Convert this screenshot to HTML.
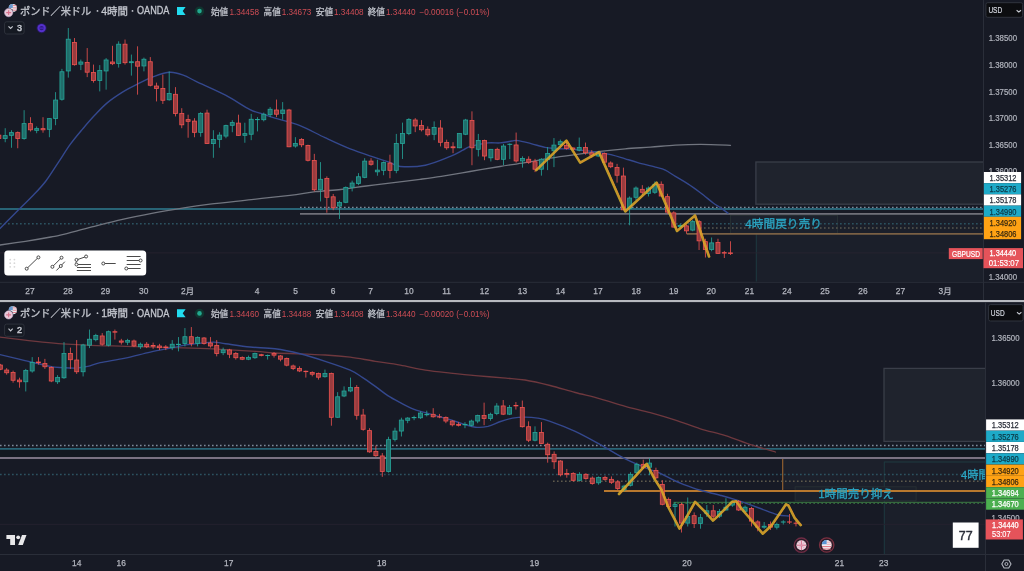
<!DOCTYPE html>
<html><head><meta charset="utf-8"><title>GBPUSD chart</title>
<style>html,body{margin:0;padding:0;background:#171a25;}body{width:1024px;height:571px;overflow:hidden;}svg{display:block;}</style>
</head><body>
<svg width="1024" height="571" viewBox="0 0 1024 571">
<rect width="1024" height="571" fill="#171a25"/>
<clipPath id="ct"><rect x="0" y="0" width="983.5" height="281.5"/></clipPath>
<clipPath id="cb"><rect x="0" y="302" width="985.5" height="252"/></clipPath>
<g clip-path="url(#ct)">
<rect x="755.9" y="162" width="240" height="42.2" fill="#1f232d" stroke="#3a3e49" stroke-width="1.3"/>
<rect x="756.3" y="214" width="240" height="80" fill="#1b1f2a" stroke="#1f3a40" stroke-width="1"/>
<rect x="730.5" y="215.3" width="107" height="18" fill="#1c212c" stroke="#2a3336" stroke-width="0.8"/>
<line x1="300" y1="207.4" x2="983.5" y2="207.4" stroke="#7e8a9a" stroke-width="1.5" stroke-dasharray="1.6 2.4"/>
<line x1="0" y1="209" x2="983.5" y2="209" stroke="#286476" stroke-width="1.8"/>
<line x1="300" y1="213.9" x2="983.5" y2="213.9" stroke="#6f6f78" stroke-width="1.8"/>
<line x1="0" y1="223.8" x2="983.5" y2="223.8" stroke="#2c5260" stroke-width="1.5" stroke-dasharray="1.7 2.3"/>
<line x1="700" y1="228" x2="983.5" y2="228" stroke="#5a5850" stroke-width="1.5" stroke-dasharray="1.6 2.4"/>
<line x1="686.7" y1="233.9" x2="983.5" y2="233.9" stroke="#7a6044" stroke-width="1.8"/>
<line x1="0" y1="252.9" x2="983.5" y2="252.9" stroke="#282430" stroke-width="0.9"/>
<path d="M0.0,245.0 C4.2,244.4 16.9,242.6 25.4,241.3 C33.9,240.0 44.8,238.1 50.8,237.0 C56.8,235.9 54.4,236.6 61.3,234.9 C68.2,233.2 81.7,229.5 91.9,226.9 C102.1,224.3 112.3,221.6 122.5,219.3 C132.7,217.0 142.9,215.0 153.1,213.1 C163.3,211.2 174.3,209.4 183.8,207.9 C193.3,206.4 198.8,205.6 210.0,204.2 C221.2,202.8 238.0,201.1 251.3,199.6 C264.6,198.1 279.3,196.6 290.0,195.3 C300.7,194.0 306.9,192.7 315.4,191.7 C323.9,190.7 332.3,190.4 340.8,189.5 C349.3,188.6 357.7,187.1 366.2,186.0 C374.7,184.9 382.6,184.0 391.6,182.9 C400.6,181.8 411.7,180.4 420.0,179.3 C428.3,178.2 433.0,177.6 441.3,176.3 C449.6,175.0 460.2,173.1 470.0,171.5 C479.8,169.9 490.8,168.0 500.0,166.5 C509.2,165.0 516.6,164.0 525.0,162.6 C533.4,161.2 541.7,159.4 550.1,158.1 C558.5,156.8 566.9,155.7 575.2,154.6 C583.6,153.5 591.9,152.3 600.2,151.3 C608.6,150.3 616.9,149.5 625.3,148.8 C633.6,148.1 641.9,147.7 650.3,147.1 C658.6,146.5 667.0,145.6 675.4,145.1 C683.8,144.6 691.2,144.3 700.4,144.3 C709.6,144.3 725.5,145.1 730.5,145.3" fill="none" stroke="#71757f" stroke-width="1.3" stroke-linecap="round"/>
<path d="M0.0,228.5 C1.5,227.0 5.6,222.9 9.2,219.3 C12.8,215.7 17.3,211.1 21.4,207.0 C25.5,202.9 29.6,199.1 33.7,194.8 C37.8,190.5 41.8,186.4 45.9,181.0 C50.0,175.6 54.1,168.7 58.2,162.6 C62.3,156.5 66.3,149.8 70.4,144.2 C74.5,138.6 78.6,133.8 82.7,128.9 C86.8,124.1 90.8,119.4 94.9,115.1 C99.0,110.8 102.6,106.7 107.2,102.9 C111.8,99.1 117.4,95.4 122.5,92.2 C127.6,89.0 132.7,86.5 137.8,83.9 C142.9,81.3 147.7,78.7 153.1,76.8 C158.5,74.9 164.9,72.5 170.0,72.3 C175.1,72.0 179.5,73.8 183.8,75.3 C188.1,76.8 189.1,78.1 196.0,81.4 C202.9,84.7 216.5,90.5 225.5,95.2 C234.5,99.9 243.8,106.5 250.0,109.6 C256.2,112.7 258.3,112.5 262.5,113.9 C266.7,115.3 268.8,116.1 275.0,118.1 C281.2,120.0 291.7,122.3 300.0,125.6 C308.3,128.9 316.6,133.8 325.0,137.7 C333.4,141.6 341.8,145.6 350.2,148.9 C358.6,152.2 368.6,155.4 375.3,157.7 C382.0,160.0 386.1,161.2 390.3,162.7 C394.5,164.2 394.5,166.1 400.3,166.5 C406.1,166.9 417.0,166.9 425.4,165.2 C433.8,163.5 444.1,158.9 450.4,156.4 C456.6,153.9 459.6,151.9 462.9,150.2 C466.2,148.5 466.2,147.6 470.4,146.4 C474.6,145.2 483.1,143.5 488.0,142.9 C492.9,142.3 496.0,143.2 500.0,142.9 C504.0,142.6 509.0,141.4 512.0,141.0 C515.0,140.6 514.8,140.2 518.0,140.6 C521.2,141.0 526.5,142.5 531.0,143.6 C535.5,144.7 540.8,146.6 545.0,147.4 C549.2,148.2 551.0,148.1 556.0,148.5 C561.0,148.9 567.8,148.9 575.2,149.6 C582.6,150.3 594.0,151.7 600.2,152.6 C606.5,153.5 608.5,154.1 612.7,155.1 C616.9,156.1 621.1,157.6 625.3,158.8 C629.5,160.1 632.8,161.2 637.8,162.6 C642.8,164.0 650.7,165.8 655.3,167.1 C659.9,168.3 661.9,168.5 665.3,170.1 C668.6,171.7 671.6,174.1 675.4,176.4 C679.2,178.7 683.7,181.2 687.9,183.9 C692.1,186.6 696.2,189.6 700.4,192.7 C704.6,195.8 709.6,200.2 712.9,202.7 C716.2,205.2 717.9,205.9 720.4,207.7 C722.9,209.4 726.7,212.3 728.0,213.2" fill="none" stroke="#34488e" stroke-width="1.4" stroke-linecap="round"/>
<rect x="-1.54" y="133.98" width="0.8" height="5.76" fill="#ef5350"/>
<rect x="-3.14" y="135.13" width="4.00" height="3.46" fill="#993c3f" stroke="#ef5350" stroke-width="0.8"/>
<rect x="4.77" y="128.22" width="0.8" height="14.03" fill="#26a69a"/>
<rect x="3.17" y="135.63" width="4.00" height="2.96" fill="#206e6b" stroke="#26a69a" stroke-width="0.8"/>
<rect x="11.07" y="130.22" width="0.8" height="17.54" fill="#26a69a"/>
<rect x="9.47" y="132.62" width="4.00" height="2.71" fill="#206e6b" stroke="#26a69a" stroke-width="0.8"/>
<rect x="17.38" y="131.47" width="0.8" height="16.78" fill="#ef5350"/>
<rect x="15.78" y="132.62" width="4.00" height="5.96" fill="#993c3f" stroke="#ef5350" stroke-width="0.8"/>
<rect x="23.69" y="110.18" width="0.8" height="29.56" fill="#26a69a"/>
<rect x="22.09" y="123.61" width="4.00" height="14.98" fill="#206e6b" stroke="#26a69a" stroke-width="0.8"/>
<rect x="30.00" y="117.19" width="0.8" height="14.28" fill="#ef5350"/>
<rect x="28.40" y="123.61" width="4.00" height="6.21" fill="#993c3f" stroke="#ef5350" stroke-width="0.8"/>
<rect x="36.31" y="126.46" width="0.8" height="6.76" fill="#26a69a"/>
<rect x="34.71" y="128.62" width="4.00" height="1.71" fill="#206e6b" stroke="#26a69a" stroke-width="0.8"/>
<rect x="42.61" y="117.19" width="0.8" height="15.53" fill="#ef5350"/>
<rect x="41.01" y="128.62" width="4.00" height="1.20" fill="#993c3f" stroke="#ef5350" stroke-width="0.8"/>
<rect x="48.92" y="118.20" width="0.8" height="19.04" fill="#26a69a"/>
<rect x="47.32" y="118.60" width="4.00" height="10.72" fill="#206e6b" stroke="#26a69a" stroke-width="0.8"/>
<rect x="55.23" y="92.14" width="0.8" height="33.07" fill="#26a69a"/>
<rect x="53.63" y="100.06" width="4.00" height="18.49" fill="#206e6b" stroke="#26a69a" stroke-width="0.8"/>
<rect x="61.54" y="68.85" width="0.8" height="31.81" fill="#26a69a"/>
<rect x="59.94" y="71.75" width="4.00" height="27.51" fill="#206e6b" stroke="#26a69a" stroke-width="0.8"/>
<rect x="67.85" y="28.02" width="0.8" height="49.60" fill="#26a69a"/>
<rect x="66.25" y="39.19" width="4.00" height="31.77" fill="#206e6b" stroke="#26a69a" stroke-width="0.8"/>
<rect x="74.15" y="38.04" width="0.8" height="27.56" fill="#ef5350"/>
<rect x="72.55" y="42.44" width="4.00" height="22.25" fill="#993c3f" stroke="#ef5350" stroke-width="0.8"/>
<rect x="80.46" y="59.58" width="0.8" height="10.52" fill="#26a69a"/>
<rect x="78.86" y="61.98" width="4.00" height="2.21" fill="#206e6b" stroke="#26a69a" stroke-width="0.8"/>
<rect x="86.77" y="48.06" width="0.8" height="29.06" fill="#ef5350"/>
<rect x="85.17" y="62.48" width="4.00" height="9.72" fill="#993c3f" stroke="#ef5350" stroke-width="0.8"/>
<rect x="93.08" y="64.59" width="0.8" height="18.04" fill="#ef5350"/>
<rect x="91.48" y="72.50" width="4.00" height="7.97" fill="#993c3f" stroke="#ef5350" stroke-width="0.8"/>
<rect x="99.39" y="65.09" width="0.8" height="26.30" fill="#26a69a"/>
<rect x="97.79" y="70.50" width="4.00" height="9.97" fill="#206e6b" stroke="#26a69a" stroke-width="0.8"/>
<rect x="105.69" y="58.08" width="0.8" height="31.56" fill="#26a69a"/>
<rect x="104.09" y="59.98" width="4.00" height="10.97" fill="#206e6b" stroke="#26a69a" stroke-width="0.8"/>
<rect x="112.00" y="45.80" width="0.8" height="19.29" fill="#ef5350"/>
<rect x="110.40" y="61.98" width="4.00" height="1.71" fill="#993c3f" stroke="#ef5350" stroke-width="0.8"/>
<rect x="118.31" y="41.29" width="0.8" height="26.30" fill="#26a69a"/>
<rect x="116.71" y="44.20" width="4.00" height="19.24" fill="#206e6b" stroke="#26a69a" stroke-width="0.8"/>
<rect x="124.62" y="39.54" width="0.8" height="25.05" fill="#ef5350"/>
<rect x="123.02" y="44.20" width="4.00" height="18.49" fill="#993c3f" stroke="#ef5350" stroke-width="0.8"/>
<rect x="130.93" y="54.57" width="0.8" height="21.04" fill="#26a69a"/>
<rect x="129.33" y="61.73" width="4.00" height="0.95" fill="#206e6b" stroke="#26a69a" stroke-width="0.8"/>
<rect x="137.23" y="46.30" width="0.8" height="48.35" fill="#ef5350"/>
<rect x="135.63" y="61.73" width="4.00" height="4.46" fill="#993c3f" stroke="#ef5350" stroke-width="0.8"/>
<rect x="143.54" y="57.58" width="0.8" height="13.78" fill="#26a69a"/>
<rect x="141.94" y="59.23" width="4.00" height="6.72" fill="#206e6b" stroke="#26a69a" stroke-width="0.8"/>
<rect x="149.85" y="57.07" width="0.8" height="29.31" fill="#ef5350"/>
<rect x="148.25" y="61.73" width="4.00" height="23.50" fill="#993c3f" stroke="#ef5350" stroke-width="0.8"/>
<rect x="156.16" y="82.63" width="0.8" height="18.79" fill="#ef5350"/>
<rect x="154.56" y="86.03" width="4.00" height="2.46" fill="#993c3f" stroke="#ef5350" stroke-width="0.8"/>
<rect x="162.47" y="74.61" width="0.8" height="29.31" fill="#ef5350"/>
<rect x="160.87" y="88.54" width="4.00" height="11.73" fill="#993c3f" stroke="#ef5350" stroke-width="0.8"/>
<rect x="168.77" y="71.35" width="0.8" height="29.31" fill="#26a69a"/>
<rect x="167.17" y="93.55" width="4.00" height="6.21" fill="#206e6b" stroke="#26a69a" stroke-width="0.8"/>
<rect x="175.08" y="87.13" width="0.8" height="29.31" fill="#ef5350"/>
<rect x="173.48" y="94.30" width="4.00" height="19.24" fill="#993c3f" stroke="#ef5350" stroke-width="0.8"/>
<rect x="181.39" y="108.18" width="0.8" height="20.04" fill="#ef5350"/>
<rect x="179.79" y="113.59" width="4.00" height="11.22" fill="#993c3f" stroke="#ef5350" stroke-width="0.8"/>
<rect x="187.70" y="114.69" width="0.8" height="23.05" fill="#ef5350"/>
<rect x="186.10" y="119.60" width="4.00" height="1.71" fill="#993c3f" stroke="#ef5350" stroke-width="0.8"/>
<rect x="194.01" y="118.20" width="0.8" height="19.04" fill="#ef5350"/>
<rect x="192.41" y="121.10" width="4.00" height="11.22" fill="#993c3f" stroke="#ef5350" stroke-width="0.8"/>
<rect x="200.31" y="112.18" width="0.8" height="24.55" fill="#26a69a"/>
<rect x="198.71" y="113.59" width="4.00" height="18.74" fill="#206e6b" stroke="#26a69a" stroke-width="0.8"/>
<rect x="206.62" y="109.68" width="0.8" height="34.32" fill="#ef5350"/>
<rect x="205.02" y="113.09" width="4.00" height="30.51" fill="#993c3f" stroke="#ef5350" stroke-width="0.8"/>
<rect x="212.93" y="130.22" width="0.8" height="27.56" fill="#26a69a"/>
<rect x="211.33" y="139.39" width="4.00" height="4.21" fill="#206e6b" stroke="#26a69a" stroke-width="0.8"/>
<rect x="219.24" y="132.22" width="0.8" height="15.53" fill="#26a69a"/>
<rect x="217.64" y="135.13" width="4.00" height="4.21" fill="#206e6b" stroke="#26a69a" stroke-width="0.8"/>
<rect x="225.55" y="124.71" width="0.8" height="13.53" fill="#26a69a"/>
<rect x="223.95" y="125.61" width="4.00" height="10.47" fill="#206e6b" stroke="#26a69a" stroke-width="0.8"/>
<rect x="231.85" y="120.20" width="0.8" height="12.02" fill="#26a69a"/>
<rect x="230.25" y="122.60" width="4.00" height="2.71" fill="#206e6b" stroke="#26a69a" stroke-width="0.8"/>
<rect x="238.16" y="114.69" width="0.8" height="21.04" fill="#ef5350"/>
<rect x="236.56" y="123.11" width="4.00" height="12.23" fill="#993c3f" stroke="#ef5350" stroke-width="0.8"/>
<rect x="244.47" y="122.71" width="0.8" height="20.04" fill="#26a69a"/>
<rect x="242.87" y="133.63" width="4.00" height="1.71" fill="#206e6b" stroke="#26a69a" stroke-width="0.8"/>
<rect x="250.78" y="113.86" width="0.8" height="26.30" fill="#26a69a"/>
<rect x="249.18" y="119.27" width="4.00" height="14.98" fill="#206e6b" stroke="#26a69a" stroke-width="0.8"/>
<rect x="257.09" y="117.11" width="0.8" height="14.28" fill="#26a69a"/>
<rect x="255.49" y="119.52" width="4.00" height="0.20" fill="#206e6b" stroke="#26a69a" stroke-width="0.8"/>
<rect x="263.39" y="112.61" width="0.8" height="8.77" fill="#26a69a"/>
<rect x="261.79" y="114.26" width="4.00" height="5.46" fill="#206e6b" stroke="#26a69a" stroke-width="0.8"/>
<rect x="269.70" y="107.09" width="0.8" height="10.02" fill="#26a69a"/>
<rect x="268.10" y="109.25" width="4.00" height="5.46" fill="#206e6b" stroke="#26a69a" stroke-width="0.8"/>
<rect x="276.01" y="99.58" width="0.8" height="17.54" fill="#ef5350"/>
<rect x="274.41" y="110.00" width="4.00" height="4.21" fill="#993c3f" stroke="#ef5350" stroke-width="0.8"/>
<rect x="282.32" y="102.08" width="0.8" height="17.54" fill="#26a69a"/>
<rect x="280.72" y="110.00" width="4.00" height="3.46" fill="#206e6b" stroke="#26a69a" stroke-width="0.8"/>
<rect x="288.63" y="108.85" width="0.8" height="38.33" fill="#ef5350"/>
<rect x="287.03" y="110.00" width="4.00" height="36.78" fill="#993c3f" stroke="#ef5350" stroke-width="0.8"/>
<rect x="294.93" y="137.15" width="0.8" height="10.52" fill="#26a69a"/>
<rect x="293.33" y="143.57" width="4.00" height="2.46" fill="#206e6b" stroke="#26a69a" stroke-width="0.8"/>
<rect x="301.24" y="138.16" width="0.8" height="9.02" fill="#ef5350"/>
<rect x="299.64" y="139.56" width="4.00" height="5.21" fill="#993c3f" stroke="#ef5350" stroke-width="0.8"/>
<rect x="307.55" y="144.67" width="0.8" height="16.78" fill="#ef5350"/>
<rect x="305.95" y="145.57" width="4.00" height="14.73" fill="#993c3f" stroke="#ef5350" stroke-width="0.8"/>
<rect x="313.86" y="153.84" width="0.8" height="37.58" fill="#ef5350"/>
<rect x="312.26" y="160.50" width="4.00" height="29.26" fill="#993c3f" stroke="#ef5350" stroke-width="0.8"/>
<rect x="320.17" y="162.10" width="0.8" height="39.33" fill="#26a69a"/>
<rect x="318.57" y="179.29" width="4.00" height="10.47" fill="#206e6b" stroke="#26a69a" stroke-width="0.8"/>
<rect x="326.47" y="176.38" width="0.8" height="36.32" fill="#ef5350"/>
<rect x="324.87" y="178.54" width="4.00" height="18.74" fill="#993c3f" stroke="#ef5350" stroke-width="0.8"/>
<rect x="332.78" y="193.92" width="0.8" height="16.28" fill="#ef5350"/>
<rect x="331.18" y="196.82" width="4.00" height="10.97" fill="#993c3f" stroke="#ef5350" stroke-width="0.8"/>
<rect x="339.09" y="200.68" width="0.8" height="18.29" fill="#26a69a"/>
<rect x="337.49" y="202.58" width="4.00" height="3.46" fill="#206e6b" stroke="#26a69a" stroke-width="0.8"/>
<rect x="345.40" y="186.40" width="0.8" height="16.78" fill="#26a69a"/>
<rect x="343.80" y="187.55" width="4.00" height="14.73" fill="#206e6b" stroke="#26a69a" stroke-width="0.8"/>
<rect x="351.71" y="180.64" width="0.8" height="10.77" fill="#26a69a"/>
<rect x="350.11" y="183.05" width="4.00" height="4.21" fill="#206e6b" stroke="#26a69a" stroke-width="0.8"/>
<rect x="358.01" y="173.13" width="0.8" height="12.02" fill="#26a69a"/>
<rect x="356.41" y="176.78" width="4.00" height="6.72" fill="#206e6b" stroke="#26a69a" stroke-width="0.8"/>
<rect x="364.32" y="158.20" width="0.8" height="20.04" fill="#26a69a"/>
<rect x="362.72" y="161.10" width="4.00" height="16.23" fill="#206e6b" stroke="#26a69a" stroke-width="0.8"/>
<rect x="370.63" y="158.20" width="0.8" height="7.52" fill="#ef5350"/>
<rect x="369.03" y="161.10" width="4.00" height="3.21" fill="#993c3f" stroke="#ef5350" stroke-width="0.8"/>
<rect x="376.94" y="159.70" width="0.8" height="16.03" fill="#26a69a"/>
<rect x="375.34" y="170.12" width="4.00" height="1.71" fill="#206e6b" stroke="#26a69a" stroke-width="0.8"/>
<rect x="383.25" y="161.45" width="0.8" height="13.78" fill="#26a69a"/>
<rect x="381.65" y="162.60" width="4.00" height="7.72" fill="#206e6b" stroke="#26a69a" stroke-width="0.8"/>
<rect x="389.55" y="154.69" width="0.8" height="23.55" fill="#ef5350"/>
<rect x="387.95" y="163.11" width="4.00" height="7.22" fill="#993c3f" stroke="#ef5350" stroke-width="0.8"/>
<rect x="395.86" y="133.90" width="0.8" height="39.33" fill="#26a69a"/>
<rect x="394.26" y="143.57" width="4.00" height="26.76" fill="#206e6b" stroke="#26a69a" stroke-width="0.8"/>
<rect x="402.17" y="122.63" width="0.8" height="36.32" fill="#26a69a"/>
<rect x="400.57" y="133.55" width="4.00" height="9.97" fill="#206e6b" stroke="#26a69a" stroke-width="0.8"/>
<rect x="408.48" y="118.12" width="0.8" height="17.03" fill="#26a69a"/>
<rect x="406.88" y="119.52" width="4.00" height="13.98" fill="#206e6b" stroke="#26a69a" stroke-width="0.8"/>
<rect x="414.79" y="118.12" width="0.8" height="14.03" fill="#ef5350"/>
<rect x="413.19" y="120.02" width="4.00" height="5.96" fill="#993c3f" stroke="#ef5350" stroke-width="0.8"/>
<rect x="421.09" y="120.12" width="0.8" height="11.27" fill="#ef5350"/>
<rect x="419.49" y="125.53" width="4.00" height="4.21" fill="#993c3f" stroke="#ef5350" stroke-width="0.8"/>
<rect x="427.40" y="126.38" width="0.8" height="10.02" fill="#ef5350"/>
<rect x="425.80" y="129.29" width="4.00" height="5.46" fill="#993c3f" stroke="#ef5350" stroke-width="0.8"/>
<rect x="433.71" y="121.37" width="0.8" height="18.79" fill="#26a69a"/>
<rect x="432.11" y="127.53" width="4.00" height="6.72" fill="#206e6b" stroke="#26a69a" stroke-width="0.8"/>
<rect x="440.02" y="120.12" width="0.8" height="26.30" fill="#ef5350"/>
<rect x="438.42" y="128.04" width="4.00" height="14.23" fill="#993c3f" stroke="#ef5350" stroke-width="0.8"/>
<rect x="446.33" y="139.66" width="0.8" height="10.02" fill="#ef5350"/>
<rect x="444.73" y="142.56" width="4.00" height="5.21" fill="#993c3f" stroke="#ef5350" stroke-width="0.8"/>
<rect x="452.63" y="142.16" width="0.8" height="11.02" fill="#ef5350"/>
<rect x="451.03" y="146.82" width="4.00" height="0.95" fill="#993c3f" stroke="#ef5350" stroke-width="0.8"/>
<rect x="458.94" y="133.15" width="0.8" height="15.03" fill="#26a69a"/>
<rect x="457.34" y="133.55" width="4.00" height="14.23" fill="#206e6b" stroke="#26a69a" stroke-width="0.8"/>
<rect x="465.25" y="118.87" width="0.8" height="16.28" fill="#26a69a"/>
<rect x="463.65" y="120.02" width="4.00" height="14.23" fill="#206e6b" stroke="#26a69a" stroke-width="0.8"/>
<rect x="471.56" y="111.35" width="0.8" height="53.86" fill="#ef5350"/>
<rect x="469.96" y="120.52" width="4.00" height="27.26" fill="#993c3f" stroke="#ef5350" stroke-width="0.8"/>
<rect x="477.87" y="133.90" width="0.8" height="22.55" fill="#26a69a"/>
<rect x="476.27" y="140.56" width="4.00" height="8.72" fill="#206e6b" stroke="#26a69a" stroke-width="0.8"/>
<rect x="484.17" y="139.66" width="0.8" height="20.54" fill="#ef5350"/>
<rect x="482.57" y="140.56" width="4.00" height="15.48" fill="#993c3f" stroke="#ef5350" stroke-width="0.8"/>
<rect x="490.48" y="148.93" width="0.8" height="12.53" fill="#26a69a"/>
<rect x="488.88" y="149.33" width="4.00" height="8.47" fill="#206e6b" stroke="#26a69a" stroke-width="0.8"/>
<rect x="496.79" y="147.68" width="0.8" height="12.53" fill="#ef5350"/>
<rect x="495.19" y="149.33" width="4.00" height="9.97" fill="#993c3f" stroke="#ef5350" stroke-width="0.8"/>
<rect x="503.10" y="143.92" width="0.8" height="21.29" fill="#26a69a"/>
<rect x="501.50" y="146.07" width="4.00" height="13.23" fill="#206e6b" stroke="#26a69a" stroke-width="0.8"/>
<rect x="509.41" y="143.32" width="0.8" height="15.78" fill="#26a69a"/>
<rect x="507.81" y="144.22" width="4.00" height="0.20" fill="#206e6b" stroke="#26a69a" stroke-width="0.8"/>
<rect x="515.71" y="132.55" width="0.8" height="30.06" fill="#ef5350"/>
<rect x="514.11" y="144.97" width="4.00" height="15.98" fill="#993c3f" stroke="#ef5350" stroke-width="0.8"/>
<rect x="522.02" y="156.34" width="0.8" height="11.27" fill="#26a69a"/>
<rect x="520.42" y="158.50" width="4.00" height="2.46" fill="#206e6b" stroke="#26a69a" stroke-width="0.8"/>
<rect x="528.33" y="156.34" width="0.8" height="7.52" fill="#ef5350"/>
<rect x="526.73" y="159.25" width="4.00" height="2.96" fill="#993c3f" stroke="#ef5350" stroke-width="0.8"/>
<rect x="534.64" y="158.85" width="0.8" height="13.28" fill="#ef5350"/>
<rect x="533.04" y="161.75" width="4.00" height="7.47" fill="#993c3f" stroke="#ef5350" stroke-width="0.8"/>
<rect x="540.95" y="158.10" width="0.8" height="17.54" fill="#26a69a"/>
<rect x="539.35" y="159.25" width="4.00" height="9.97" fill="#206e6b" stroke="#26a69a" stroke-width="0.8"/>
<rect x="547.25" y="147.07" width="0.8" height="23.05" fill="#26a69a"/>
<rect x="545.65" y="153.49" width="4.00" height="6.21" fill="#206e6b" stroke="#26a69a" stroke-width="0.8"/>
<rect x="553.56" y="138.06" width="0.8" height="29.06" fill="#26a69a"/>
<rect x="551.96" y="145.09" width="4.00" height="5.71" fill="#206e6b" stroke="#26a69a" stroke-width="0.8"/>
<rect x="559.87" y="139.56" width="0.8" height="6.76" fill="#26a69a"/>
<rect x="558.27" y="141.71" width="4.00" height="2.96" fill="#206e6b" stroke="#26a69a" stroke-width="0.8"/>
<rect x="566.18" y="140.56" width="0.8" height="9.02" fill="#ef5350"/>
<rect x="564.58" y="145.47" width="4.00" height="2.96" fill="#993c3f" stroke="#ef5350" stroke-width="0.8"/>
<rect x="572.49" y="147.07" width="0.8" height="3.01" fill="#ef5350"/>
<rect x="570.89" y="147.98" width="4.00" height="1.20" fill="#993c3f" stroke="#ef5350" stroke-width="0.8"/>
<rect x="578.79" y="137.56" width="0.8" height="13.78" fill="#26a69a"/>
<rect x="577.19" y="147.47" width="4.00" height="2.71" fill="#206e6b" stroke="#26a69a" stroke-width="0.8"/>
<rect x="585.10" y="142.57" width="0.8" height="12.02" fill="#ef5350"/>
<rect x="583.50" y="147.47" width="4.00" height="5.21" fill="#993c3f" stroke="#ef5350" stroke-width="0.8"/>
<rect x="591.41" y="150.08" width="0.8" height="7.52" fill="#ef5350"/>
<rect x="589.81" y="152.99" width="4.00" height="2.21" fill="#993c3f" stroke="#ef5350" stroke-width="0.8"/>
<rect x="597.72" y="151.33" width="0.8" height="5.76" fill="#26a69a"/>
<rect x="596.12" y="152.48" width="4.00" height="3.46" fill="#206e6b" stroke="#26a69a" stroke-width="0.8"/>
<rect x="604.03" y="152.59" width="0.8" height="11.27" fill="#ef5350"/>
<rect x="602.43" y="153.49" width="4.00" height="8.72" fill="#993c3f" stroke="#ef5350" stroke-width="0.8"/>
<rect x="610.33" y="161.35" width="0.8" height="6.76" fill="#ef5350"/>
<rect x="608.73" y="163.01" width="4.00" height="3.71" fill="#993c3f" stroke="#ef5350" stroke-width="0.8"/>
<rect x="616.64" y="163.86" width="0.8" height="18.79" fill="#ef5350"/>
<rect x="615.04" y="167.51" width="4.00" height="7.72" fill="#993c3f" stroke="#ef5350" stroke-width="0.8"/>
<rect x="622.95" y="167.62" width="0.8" height="42.59" fill="#ef5350"/>
<rect x="621.35" y="176.03" width="4.00" height="33.77" fill="#993c3f" stroke="#ef5350" stroke-width="0.8"/>
<rect x="629.26" y="196.42" width="0.8" height="28.81" fill="#26a69a"/>
<rect x="627.66" y="198.08" width="4.00" height="10.47" fill="#206e6b" stroke="#26a69a" stroke-width="0.8"/>
<rect x="635.57" y="186.40" width="0.8" height="13.78" fill="#26a69a"/>
<rect x="633.97" y="188.06" width="4.00" height="9.22" fill="#206e6b" stroke="#26a69a" stroke-width="0.8"/>
<rect x="641.87" y="185.15" width="0.8" height="10.02" fill="#ef5350"/>
<rect x="640.27" y="189.31" width="4.00" height="2.96" fill="#993c3f" stroke="#ef5350" stroke-width="0.8"/>
<rect x="648.18" y="186.40" width="0.8" height="10.02" fill="#26a69a"/>
<rect x="646.58" y="188.06" width="4.00" height="5.46" fill="#206e6b" stroke="#26a69a" stroke-width="0.8"/>
<rect x="654.49" y="181.39" width="0.8" height="12.53" fill="#26a69a"/>
<rect x="652.89" y="184.30" width="4.00" height="7.97" fill="#206e6b" stroke="#26a69a" stroke-width="0.8"/>
<rect x="660.80" y="181.39" width="0.8" height="15.03" fill="#ef5350"/>
<rect x="659.20" y="184.30" width="4.00" height="11.73" fill="#993c3f" stroke="#ef5350" stroke-width="0.8"/>
<rect x="667.11" y="193.75" width="0.8" height="20.00" fill="#ef5350"/>
<rect x="665.51" y="196.65" width="4.00" height="15.45" fill="#993c3f" stroke="#ef5350" stroke-width="0.8"/>
<rect x="673.41" y="211.25" width="0.8" height="16.25" fill="#ef5350"/>
<rect x="671.81" y="212.90" width="4.00" height="14.20" fill="#993c3f" stroke="#ef5350" stroke-width="0.8"/>
<rect x="679.72" y="223.75" width="0.8" height="3.75" fill="#26a69a"/>
<rect x="678.12" y="225.40" width="4.00" height="1.20" fill="#206e6b" stroke="#26a69a" stroke-width="0.8"/>
<rect x="686.03" y="224.50" width="0.8" height="9.25" fill="#ef5350"/>
<rect x="684.43" y="225.90" width="4.00" height="4.95" fill="#993c3f" stroke="#ef5350" stroke-width="0.8"/>
<rect x="692.34" y="220.00" width="0.8" height="11.25" fill="#26a69a"/>
<rect x="690.74" y="221.65" width="4.00" height="8.45" fill="#206e6b" stroke="#26a69a" stroke-width="0.8"/>
<rect x="698.65" y="220.00" width="0.8" height="30.00" fill="#ef5350"/>
<rect x="697.05" y="221.65" width="4.00" height="19.20" fill="#993c3f" stroke="#ef5350" stroke-width="0.8"/>
<rect x="704.95" y="238.75" width="0.8" height="18.75" fill="#ef5350"/>
<rect x="703.35" y="241.65" width="4.00" height="7.95" fill="#993c3f" stroke="#ef5350" stroke-width="0.8"/>
<rect x="711.26" y="237.50" width="0.8" height="13.75" fill="#26a69a"/>
<rect x="709.66" y="242.90" width="4.00" height="6.70" fill="#206e6b" stroke="#26a69a" stroke-width="0.8"/>
<rect x="717.57" y="238.75" width="0.8" height="15.00" fill="#ef5350"/>
<rect x="715.97" y="242.40" width="4.00" height="10.95" fill="#993c3f" stroke="#ef5350" stroke-width="0.8"/>
<rect x="723.88" y="250.90" width="0.8" height="7.10" fill="#ef5350"/>
<rect x="722.28" y="252.60" width="4.00" height="0.50" fill="#993c3f" stroke="#ef5350" stroke-width="0.8"/>
<rect x="730.19" y="241.25" width="0.8" height="13.75" fill="#ef5350"/>
<rect x="728.59" y="252.90" width="4.00" height="0.70" fill="#993c3f" stroke="#ef5350" stroke-width="0.8"/>
<polyline points="536.3,170.1 566.4,140.6 580.2,162.6 599.0,152.1 625.3,211.5 656.6,182.6 677.0,231.0 695.0,215.5 709.0,256.5" fill="none" stroke="#d8b42a" stroke-width="2.6" stroke-linejoin="round" stroke-linecap="round" opacity="0.85"/>
<polyline points="537.0,170.1 567.1,140.6 580.9,162.6 599.7,152.1 626.0,211.5 657.3,182.6 677.7,231.0 695.7,215.5 709.7,256.5" fill="none" stroke="#e0862a" stroke-width="1.0" stroke-linejoin="round" stroke-linecap="round" opacity="0.8"/>
<text x="783.6" y="228.1" font-size="11.2" fill="#2aa5c2" font-family='"Liberation Sans", "Noto Sans CJK JP", sans-serif' text-anchor="middle" stroke="#2aa5c2" stroke-width="0.3" textLength="76.6" lengthAdjust="spacingAndGlyphs">4時間戻り売り</text>
</g>
<line x1="983.5" y1="0" x2="983.5" y2="300" stroke="#2a2e39" stroke-width="1"/>
<line x1="0" y1="282.3" x2="1024" y2="282.3" stroke="#2a2e39" stroke-width="1"/>
<text x="988.7" y="41.1" font-size="8.4" fill="#b2b5be" font-family='"Liberation Sans", "Noto Sans CJK JP", sans-serif' stroke="#b2b5be" stroke-width="0.2" textLength="28.3" lengthAdjust="spacingAndGlyphs">1.38500</text>
<text x="988.7" y="67.9" font-size="8.4" fill="#b2b5be" font-family='"Liberation Sans", "Noto Sans CJK JP", sans-serif' stroke="#b2b5be" stroke-width="0.2" textLength="28.3" lengthAdjust="spacingAndGlyphs">1.38000</text>
<text x="988.7" y="94.5" font-size="8.4" fill="#b2b5be" font-family='"Liberation Sans", "Noto Sans CJK JP", sans-serif' stroke="#b2b5be" stroke-width="0.2" textLength="28.3" lengthAdjust="spacingAndGlyphs">1.37500</text>
<text x="988.7" y="121.1" font-size="8.4" fill="#b2b5be" font-family='"Liberation Sans", "Noto Sans CJK JP", sans-serif' stroke="#b2b5be" stroke-width="0.2" textLength="28.3" lengthAdjust="spacingAndGlyphs">1.37000</text>
<text x="988.7" y="147.6" font-size="8.4" fill="#b2b5be" font-family='"Liberation Sans", "Noto Sans CJK JP", sans-serif' stroke="#b2b5be" stroke-width="0.2" textLength="28.3" lengthAdjust="spacingAndGlyphs">1.36500</text>
<text x="988.7" y="174.1" font-size="8.4" fill="#b2b5be" font-family='"Liberation Sans", "Noto Sans CJK JP", sans-serif' stroke="#b2b5be" stroke-width="0.2" textLength="28.3" lengthAdjust="spacingAndGlyphs">1.36000</text>
<text x="988.7" y="280.3" font-size="8.4" fill="#b2b5be" font-family='"Liberation Sans", "Noto Sans CJK JP", sans-serif' stroke="#b2b5be" stroke-width="0.2" textLength="28.3" lengthAdjust="spacingAndGlyphs">1.34000</text>
<rect x="983.9" y="172" width="37.2" height="11.2" fill="#ffffff"/><text x="989.6" y="180.9" font-size="8.7" fill="#2a2e39" font-family='"Liberation Sans", "Noto Sans CJK JP", sans-serif' stroke="#2a2e39" stroke-width="0.25" textLength="26.9" lengthAdjust="spacingAndGlyphs">1.35312</text>
<rect x="983.9" y="183.2" width="37.2" height="11.2" fill="#1eaac8"/><text x="989.6" y="192.1" font-size="8.7" fill="#0d3a48" font-family='"Liberation Sans", "Noto Sans CJK JP", sans-serif' stroke="#0d3a48" stroke-width="0.25" textLength="26.9" lengthAdjust="spacingAndGlyphs">1.35276</text>
<rect x="983.9" y="194.4" width="37.2" height="11.2" fill="#ffffff"/><text x="989.6" y="203.3" font-size="8.7" fill="#2a2e39" font-family='"Liberation Sans", "Noto Sans CJK JP", sans-serif' stroke="#2a2e39" stroke-width="0.25" textLength="26.9" lengthAdjust="spacingAndGlyphs">1.35178</text>
<rect x="983.9" y="205.6" width="37.2" height="11.2" fill="#1eaac8"/><text x="989.6" y="214.5" font-size="8.7" fill="#0d3a48" font-family='"Liberation Sans", "Noto Sans CJK JP", sans-serif' stroke="#0d3a48" stroke-width="0.25" textLength="26.9" lengthAdjust="spacingAndGlyphs">1.34990</text>
<rect x="983.9" y="216.8" width="37.2" height="11.2" fill="#ffa214"/><text x="989.6" y="225.70000000000002" font-size="8.7" fill="#3a2a10" font-family='"Liberation Sans", "Noto Sans CJK JP", sans-serif' stroke="#3a2a10" stroke-width="0.25" textLength="26.9" lengthAdjust="spacingAndGlyphs">1.34920</text>
<rect x="983.9" y="228.0" width="37.2" height="11.2" fill="#ffa214"/><text x="989.6" y="236.9" font-size="8.7" fill="#3a2a10" font-family='"Liberation Sans", "Noto Sans CJK JP", sans-serif' stroke="#3a2a10" stroke-width="0.25" textLength="26.9" lengthAdjust="spacingAndGlyphs">1.34806</text>
<rect x="983.5" y="248.1" width="39.5" height="20.1" fill="#e5535a"/>
<text x="989.5" y="256.2" font-size="8.2" fill="#ffffff" font-family='"Liberation Sans", "Noto Sans CJK JP", sans-serif' stroke="#ffffff" stroke-width="0.25" textLength="26.6" lengthAdjust="spacingAndGlyphs">1.34440</text>
<text x="988.7" y="265.8" font-size="8.2" fill="#ffffff" font-family='"Liberation Sans", "Noto Sans CJK JP", sans-serif' stroke="#ffffff" stroke-width="0.15" textLength="30.3" lengthAdjust="spacingAndGlyphs">01:53:07</text>
<rect x="948.8" y="248.1" width="33.9" height="11" fill="#e5535a"/>
<text x="952" y="256.8" font-size="8.4" fill="#ffffff" font-family='"Liberation Sans", "Noto Sans CJK JP", sans-serif' stroke="#ffffff" stroke-width="0.2" textLength="27.9" lengthAdjust="spacingAndGlyphs">GBPUSD</text>
<rect x="985.9" y="2.7" width="36.8" height="14.6" rx="1.8" fill="#0c0d10" stroke="#30343e" stroke-width="1"/>
<text x="988.4" y="13.3" font-size="8.8" fill="#d1d4dc" font-family='"Liberation Sans", "Noto Sans CJK JP", sans-serif' stroke="#d1d4dc" stroke-width="0.2" textLength="13.8" lengthAdjust="spacingAndGlyphs">USD</text>
<path d="M1016.6 10.2 l2.2 1.8 l2.2 -1.8" fill="none" stroke="#c9ccd3" stroke-width="1.1"/>
<text x="30" y="293.7" font-size="8.4" fill="#b2b5be" font-family='"Liberation Sans", "Noto Sans CJK JP", sans-serif' text-anchor="middle" stroke="#b2b5be" stroke-width="0.25">27</text>
<text x="68" y="293.7" font-size="8.4" fill="#b2b5be" font-family='"Liberation Sans", "Noto Sans CJK JP", sans-serif' text-anchor="middle" stroke="#b2b5be" stroke-width="0.25">28</text>
<text x="105.5" y="293.7" font-size="8.4" fill="#b2b5be" font-family='"Liberation Sans", "Noto Sans CJK JP", sans-serif' text-anchor="middle" stroke="#b2b5be" stroke-width="0.25">29</text>
<text x="143.75" y="293.7" font-size="8.4" fill="#b2b5be" font-family='"Liberation Sans", "Noto Sans CJK JP", sans-serif' text-anchor="middle" stroke="#b2b5be" stroke-width="0.25">30</text>
<text x="187.5" y="293.7" font-size="8.4" fill="#b2b5be" font-family='"Liberation Sans", "Noto Sans CJK JP", sans-serif' text-anchor="middle" stroke="#b2b5be" stroke-width="0.25">2月</text>
<text x="257" y="293.7" font-size="8.4" fill="#b2b5be" font-family='"Liberation Sans", "Noto Sans CJK JP", sans-serif' text-anchor="middle" stroke="#b2b5be" stroke-width="0.25">4</text>
<text x="295.5" y="293.7" font-size="8.4" fill="#b2b5be" font-family='"Liberation Sans", "Noto Sans CJK JP", sans-serif' text-anchor="middle" stroke="#b2b5be" stroke-width="0.25">5</text>
<text x="333" y="293.7" font-size="8.4" fill="#b2b5be" font-family='"Liberation Sans", "Noto Sans CJK JP", sans-serif' text-anchor="middle" stroke="#b2b5be" stroke-width="0.25">6</text>
<text x="370.5" y="293.7" font-size="8.4" fill="#b2b5be" font-family='"Liberation Sans", "Noto Sans CJK JP", sans-serif' text-anchor="middle" stroke="#b2b5be" stroke-width="0.25">7</text>
<text x="409" y="293.7" font-size="8.4" fill="#b2b5be" font-family='"Liberation Sans", "Noto Sans CJK JP", sans-serif' text-anchor="middle" stroke="#b2b5be" stroke-width="0.25">10</text>
<text x="446.5" y="293.7" font-size="8.4" fill="#b2b5be" font-family='"Liberation Sans", "Noto Sans CJK JP", sans-serif' text-anchor="middle" stroke="#b2b5be" stroke-width="0.25">11</text>
<text x="484.5" y="293.7" font-size="8.4" fill="#b2b5be" font-family='"Liberation Sans", "Noto Sans CJK JP", sans-serif' text-anchor="middle" stroke="#b2b5be" stroke-width="0.25">12</text>
<text x="522.5" y="293.7" font-size="8.4" fill="#b2b5be" font-family='"Liberation Sans", "Noto Sans CJK JP", sans-serif' text-anchor="middle" stroke="#b2b5be" stroke-width="0.25">13</text>
<text x="560.5" y="293.7" font-size="8.4" fill="#b2b5be" font-family='"Liberation Sans", "Noto Sans CJK JP", sans-serif' text-anchor="middle" stroke="#b2b5be" stroke-width="0.25">14</text>
<text x="598" y="293.7" font-size="8.4" fill="#b2b5be" font-family='"Liberation Sans", "Noto Sans CJK JP", sans-serif' text-anchor="middle" stroke="#b2b5be" stroke-width="0.25">17</text>
<text x="636.25" y="293.7" font-size="8.4" fill="#b2b5be" font-family='"Liberation Sans", "Noto Sans CJK JP", sans-serif' text-anchor="middle" stroke="#b2b5be" stroke-width="0.25">18</text>
<text x="673.75" y="293.7" font-size="8.4" fill="#b2b5be" font-family='"Liberation Sans", "Noto Sans CJK JP", sans-serif' text-anchor="middle" stroke="#b2b5be" stroke-width="0.25">19</text>
<text x="711.25" y="293.7" font-size="8.4" fill="#b2b5be" font-family='"Liberation Sans", "Noto Sans CJK JP", sans-serif' text-anchor="middle" stroke="#b2b5be" stroke-width="0.25">20</text>
<text x="749.5" y="293.7" font-size="8.4" fill="#b2b5be" font-family='"Liberation Sans", "Noto Sans CJK JP", sans-serif' text-anchor="middle" stroke="#b2b5be" stroke-width="0.25">21</text>
<text x="787" y="293.7" font-size="8.4" fill="#b2b5be" font-family='"Liberation Sans", "Noto Sans CJK JP", sans-serif' text-anchor="middle" stroke="#b2b5be" stroke-width="0.25">24</text>
<text x="825" y="293.7" font-size="8.4" fill="#b2b5be" font-family='"Liberation Sans", "Noto Sans CJK JP", sans-serif' text-anchor="middle" stroke="#b2b5be" stroke-width="0.25">25</text>
<text x="863" y="293.7" font-size="8.4" fill="#b2b5be" font-family='"Liberation Sans", "Noto Sans CJK JP", sans-serif' text-anchor="middle" stroke="#b2b5be" stroke-width="0.25">26</text>
<text x="900.5" y="293.7" font-size="8.4" fill="#b2b5be" font-family='"Liberation Sans", "Noto Sans CJK JP", sans-serif' text-anchor="middle" stroke="#b2b5be" stroke-width="0.25">27</text>
<text x="945" y="293.7" font-size="8.4" fill="#b2b5be" font-family='"Liberation Sans", "Noto Sans CJK JP", sans-serif' text-anchor="middle" stroke="#b2b5be" stroke-width="0.25">3月</text>
<circle cx="12.8" cy="8.0" r="4.1" fill="#eef0f4"/>
<path d="M8.7 8.0 A4.1 4.1 0 0 1 12.8 3.9 V8.0 Z" fill="#6a9ad0"/>
<path d="M12.8 5.6 h3.6 M12.8 7.9 h4.1 M9.2 10.2 h7.3" stroke="#e07888" stroke-width="0.9"/>
<circle cx="8.65" cy="12.6" r="4.7" fill="#171a25"/>
<circle cx="8.65" cy="12.6" r="4.2" fill="#e8cad8"/>
<path d="M6.2 12.6 h4.9 M8.65 10.2 v4.8" stroke="#d8708c" stroke-width="1.1"/>
<circle cx="8.65" cy="12.6" r="4.2" fill="none" stroke="#c8b0d8" stroke-width="0.5"/>
<text x="20" y="14.6" font-size="10.4" fill="#c3c6ce" font-family='"Liberation Sans", "Noto Sans CJK JP", sans-serif' stroke="#c3c6ce" stroke-width="0.3" textLength="71.2" lengthAdjust="spacingAndGlyphs">ポンド／米ドル</text>
<circle cx="97.5" cy="10.9" r="0.9" fill="#c3c6ce"/>
<text x="101.3" y="14.6" font-size="10.4" fill="#c3c6ce" font-family='"Liberation Sans", "Noto Sans CJK JP", sans-serif' stroke="#c3c6ce" stroke-width="0.3" textLength="26.7" lengthAdjust="spacingAndGlyphs">4時間</text>
<circle cx="132.5" cy="10.9" r="0.9" fill="#c3c6ce"/>
<text x="137" y="14.4" font-size="10.4" fill="#c3c6ce" font-family='"Liberation Sans", "Noto Sans CJK JP", sans-serif' stroke="#c3c6ce" stroke-width="0.3" textLength="32.4" lengthAdjust="spacingAndGlyphs">OANDA</text>
<path d="M177 7 h8.6 l-2.9 4 l2.9 4 h-8.6 z" fill="#22dcf0"/>
<circle cx="199.5" cy="11.1" r="4.7" fill="#10352f"/>
<circle cx="199.5" cy="11.1" r="2.3" fill="#22a88f"/>
<text x="211" y="14.6" font-size="8.7" fill="#c3c6ce" font-family='"Liberation Sans", "Noto Sans CJK JP", sans-serif' stroke="#c3c6ce" stroke-width="0.25" textLength="17.2" lengthAdjust="spacingAndGlyphs">始値</text>
<text x="229.4" y="14.6" font-size="8.3" fill="#cf4d55" font-family='"Liberation Sans", "Noto Sans CJK JP", sans-serif' textLength="29.6" lengthAdjust="spacingAndGlyphs">1.34458</text>
<text x="263.6" y="14.6" font-size="8.7" fill="#c3c6ce" font-family='"Liberation Sans", "Noto Sans CJK JP", sans-serif' stroke="#c3c6ce" stroke-width="0.25" textLength="17.2" lengthAdjust="spacingAndGlyphs">高値</text>
<text x="281.7" y="14.6" font-size="8.3" fill="#cf4d55" font-family='"Liberation Sans", "Noto Sans CJK JP", sans-serif' textLength="29.6" lengthAdjust="spacingAndGlyphs">1.34673</text>
<text x="315.8" y="14.6" font-size="8.7" fill="#c3c6ce" font-family='"Liberation Sans", "Noto Sans CJK JP", sans-serif' stroke="#c3c6ce" stroke-width="0.25" textLength="17.2" lengthAdjust="spacingAndGlyphs">安値</text>
<text x="334" y="14.6" font-size="8.3" fill="#cf4d55" font-family='"Liberation Sans", "Noto Sans CJK JP", sans-serif' textLength="29.6" lengthAdjust="spacingAndGlyphs">1.34408</text>
<text x="367.7" y="14.6" font-size="8.7" fill="#c3c6ce" font-family='"Liberation Sans", "Noto Sans CJK JP", sans-serif' stroke="#c3c6ce" stroke-width="0.25" textLength="17.2" lengthAdjust="spacingAndGlyphs">終値</text>
<text x="386" y="14.6" font-size="8.3" fill="#cf4d55" font-family='"Liberation Sans", "Noto Sans CJK JP", sans-serif' textLength="29.6" lengthAdjust="spacingAndGlyphs">1.34440</text>
<text x="419.5" y="14.6" font-size="8.3" fill="#cf4d55" font-family='"Liberation Sans", "Noto Sans CJK JP", sans-serif' textLength="70.1" lengthAdjust="spacingAndGlyphs">−0.00016 (−0.01%)</text>
<rect x="4.6" y="21.8" width="19.5" height="12.2" rx="2" fill="#151922" stroke="#2e323c" stroke-width="1"/>
<path d="M8.5 26.4 l2.1 2.1 l2.1 -2.1" fill="none" stroke="#c3c6ce" stroke-width="1.2"/>
<text x="17" y="31.1" font-size="9" fill="#c3c6ce" font-family='"Liberation Sans", "Noto Sans CJK JP", sans-serif' stroke="#c3c6ce" stroke-width="0.5">3</text>
<circle cx="41.6" cy="28.1" r="5.2" fill="#2a1a70" opacity="0.6"/><circle cx="41.6" cy="28.1" r="4.2" fill="#5530cc"/><circle cx="41.6" cy="28.1" r="2.2" fill="#2c1a80"/><rect x="39.4" y="27.6" width="4.4" height="1" fill="#5530cc"/>
<rect x="4.3" y="250.4" width="141.9" height="25.2" rx="3.5" fill="#ffffff"/>
<circle cx="10.2" cy="259.6" r="0.9" fill="#d8d8d8"/><circle cx="10.2" cy="263.20000000000005" r="0.9" fill="#d8d8d8"/><circle cx="10.2" cy="266.8" r="0.9" fill="#d8d8d8"/><circle cx="14.399999999999999" cy="259.6" r="0.9" fill="#d8d8d8"/><circle cx="14.399999999999999" cy="263.20000000000005" r="0.9" fill="#d8d8d8"/><circle cx="14.399999999999999" cy="266.8" r="0.9" fill="#d8d8d8"/>
<g fill="none" stroke="#4a4a4a" stroke-width="1.0"><line x1="27.6" y1="267.8" x2="37.4" y2="258.3"/><circle cx="26.7" cy="268.7" r="1.5"/><circle cx="38.4" cy="257.4" r="1.5"/><line x1="53.3" y1="265.9" x2="60.6" y2="258.6"/><circle cx="52.4" cy="266.8" r="1.5"/><circle cx="61.5" cy="257.7" r="1.5"/><line x1="56.4" y1="270.5" x2="59.8" y2="267"/><line x1="61.8" y1="264.9" x2="64.8" y2="261.7"/><circle cx="60.8" cy="266" r="1.5"/><line x1="77.7" y1="259.5" x2="84.9" y2="257"/><circle cx="76.5" cy="259.9" r="1.5"/><circle cx="86.1" cy="256.5" r="1.5"/><circle cx="76.5" cy="264.5" r="1.5"/><line x1="78" y1="264.5" x2="91" y2="264.5"/><line x1="77" y1="267.5" x2="91" y2="267.5"/><line x1="76.8" y1="270.5" x2="91" y2="270.5"/><path d="M76.6 261.4 L75.9 262.3 L76.6 263.2"/><circle cx="103.3" cy="263.5" r="1.5"/><line x1="104.8" y1="263.5" x2="115.7" y2="263.5"/><line x1="126.7" y1="256.5" x2="140.6" y2="256.5"/><line x1="126.7" y1="260.5" x2="139.1" y2="260.5"/><circle cx="140.6" cy="260.5" r="1.5"/><line x1="126.7" y1="264.5" x2="140.6" y2="264.5"/><line x1="127.8" y1="268.5" x2="140.6" y2="268.5"/><circle cx="126.3" cy="268.5" r="1.5"/></g>
<rect x="0" y="300" width="1024" height="2.1" fill="#b8bac0"/>
<g clip-path="url(#cb)">
<rect x="884" y="368.4" width="120" height="73" fill="#1f232d" stroke="#3a3e49" stroke-width="1.3"/>
<rect x="782.7" y="458" width="220" height="31.4" fill="#1c202b"/>
<line x1="782.7" y1="458" x2="782.7" y2="490" stroke="#9a6430" stroke-width="1.1"/>
<rect x="884.3" y="462" width="120" height="100" fill="#1b1f2a" stroke="#1f3a40" stroke-width="1"/>
<rect x="795.1" y="486.8" width="121" height="14" fill="#1c212c" stroke="#2a3336" stroke-width="0.8"/>
<rect x="0" y="450" width="985.5" height="7" fill="#131820"/>
<line x1="0" y1="445.4" x2="985.5" y2="445.4" stroke="#7e8a9a" stroke-width="1.5" stroke-dasharray="1.6 2.4"/>
<line x1="0" y1="448.9" x2="985.5" y2="448.9" stroke="#286476" stroke-width="1.8"/>
<line x1="0" y1="458" x2="985.5" y2="458" stroke="#7a7282" stroke-width="1.8"/>
<line x1="0" y1="474.5" x2="985.5" y2="474.5" stroke="#2c5260" stroke-width="1.5" stroke-dasharray="1.7 2.3"/>
<line x1="553" y1="481.2" x2="985.5" y2="481.2" stroke="#5e5a4c" stroke-width="1.5" stroke-dasharray="1.6 2.4"/>
<line x1="604" y1="491" x2="985.5" y2="491" stroke="#b8782e" stroke-width="1.8"/>
<line x1="673.5" y1="502.3" x2="985.5" y2="502.3" stroke="#3c7a44" stroke-width="1.0"/>
<line x1="673.5" y1="503.3" x2="985.5" y2="503.3" stroke="#3c7a44" stroke-width="1.3" stroke-dasharray="1.3 2.7"/>
<line x1="0" y1="524.3" x2="985.5" y2="524.3" stroke="#262330" stroke-width="0.9"/>
<path d="M0.0,337.1 C10.4,338.2 41.7,342.3 62.6,343.8 C83.5,345.3 106.5,345.7 125.3,346.3 C144.1,346.9 160.8,347.2 175.4,347.6 C190.0,348.0 199.5,348.2 212.9,348.8 C226.3,349.4 245.7,350.7 256.0,351.4 C266.4,352.1 263.5,352.4 275.0,353.0 C286.5,353.6 312.7,354.3 325.2,355.0 C337.7,355.7 341.8,356.1 350.2,357.1 C358.6,358.2 366.9,360.0 375.3,361.3 C383.7,362.6 392.0,363.6 400.3,365.1 C408.6,366.6 417.0,368.8 425.4,370.1 C433.8,371.4 442.1,372.2 450.4,373.1 C458.7,374.0 466.1,374.8 475.4,375.6 C484.7,376.4 497.7,377.4 506.0,378.1 C514.3,378.8 517.6,378.8 525.0,380.0 C532.4,381.2 541.7,383.4 550.1,385.5 C558.5,387.6 566.9,390.3 575.2,392.5 C583.6,394.7 591.9,396.5 600.2,398.8 C608.6,401.1 616.9,404.0 625.3,406.3 C633.6,408.6 641.9,410.3 650.3,412.6 C658.6,414.9 667.0,417.4 675.4,420.1 C683.8,422.8 692.0,426.2 700.4,428.8 C708.8,431.4 717.1,433.0 725.5,435.6 C733.9,438.2 742.2,441.9 750.5,444.6 C758.8,447.3 771.3,450.8 775.5,452.0" fill="none" stroke="#6e383e" stroke-width="1.3" stroke-linecap="round"/>
<path d="M0.0,354.6 C4.2,355.6 16.6,358.6 25.0,360.6 C33.4,362.6 43.8,365.2 50.1,366.4 C56.4,367.6 58.4,367.3 62.6,367.6 C66.8,367.9 71.0,368.3 75.2,368.1 C79.4,367.9 83.5,367.3 87.7,366.4 C91.9,365.5 93.9,364.0 100.2,362.6 C106.5,361.2 116.9,359.9 125.3,358.1 C133.7,356.4 142.0,353.9 150.3,352.1 C158.7,350.3 169.1,348.4 175.4,347.1 C181.7,345.9 181.7,345.4 187.9,344.6 C194.2,343.8 206.6,342.2 212.9,342.1 C219.2,342.0 219.3,343.0 225.5,343.8 C231.7,344.6 241.8,346.2 250.0,347.0 C258.2,347.8 266.6,347.7 275.0,348.8 C283.4,349.9 291.7,351.7 300.1,353.8 C308.5,355.9 316.9,358.6 325.2,361.3 C333.5,364.0 343.9,367.4 350.2,370.1 C356.4,372.8 358.5,374.9 362.7,377.6 C366.9,380.3 371.1,383.4 375.3,386.4 C379.5,389.4 383.6,392.9 387.8,395.6 C392.0,398.3 396.1,400.4 400.3,402.6 C404.5,404.8 408.6,407.2 412.8,408.9 C417.0,410.6 419.1,410.9 425.4,412.7 C431.7,414.5 444.1,417.8 450.4,419.7 C456.6,421.6 458.7,422.6 462.9,423.9 C467.1,425.1 471.2,426.8 475.4,427.2 C479.6,427.6 483.8,427.3 488.0,426.4 C492.2,425.4 496.4,422.9 500.5,421.5 C504.6,420.1 508.4,418.8 512.5,418.1 C516.6,417.4 520.8,417.1 525.0,417.1 C529.2,417.1 533.4,417.4 537.6,418.1 C541.8,418.8 543.8,419.1 550.1,421.3 C556.4,423.5 566.9,427.5 575.2,431.4 C583.6,435.3 591.9,440.0 600.2,444.6 C608.6,449.2 616.9,454.7 625.3,458.9 C633.6,463.1 644.6,467.4 650.3,469.7 C656.0,472.0 655.2,471.0 659.4,472.9 C663.6,474.8 671.2,479.0 675.4,481.0 C679.6,483.0 680.7,483.3 684.7,484.8 C688.7,486.3 695.4,488.7 699.6,490.0 C703.8,491.3 706.6,491.8 710.0,492.7 C713.4,493.6 715.9,494.1 720.0,495.2 C724.1,496.3 728.0,497.3 734.5,499.4 C741.0,501.5 751.9,505.4 759.0,508.0 C766.1,510.6 772.5,513.4 777.4,514.7 C782.3,516.0 786.6,515.8 788.4,516.0" fill="none" stroke="#34488e" stroke-width="1.4" stroke-linecap="round"/>
<rect x="-0.06" y="363.88" width="0.8" height="6.26" fill="#ef5350"/>
<rect x="-1.66" y="365.03" width="4.00" height="4.21" fill="#993c3f" stroke="#ef5350" stroke-width="0.8"/>
<rect x="6.31" y="368.14" width="0.8" height="6.51" fill="#ef5350"/>
<rect x="4.71" y="370.04" width="4.00" height="2.71" fill="#993c3f" stroke="#ef5350" stroke-width="0.8"/>
<rect x="12.67" y="370.64" width="0.8" height="12.02" fill="#ef5350"/>
<rect x="11.07" y="372.54" width="4.00" height="7.72" fill="#993c3f" stroke="#ef5350" stroke-width="0.8"/>
<rect x="19.04" y="377.66" width="0.8" height="10.02" fill="#ef5350"/>
<rect x="17.43" y="380.06" width="4.00" height="1.71" fill="#993c3f" stroke="#ef5350" stroke-width="0.8"/>
<rect x="25.40" y="368.89" width="0.8" height="22.55" fill="#26a69a"/>
<rect x="23.80" y="370.54" width="4.00" height="11.22" fill="#206e6b" stroke="#26a69a" stroke-width="0.8"/>
<rect x="31.77" y="357.11" width="0.8" height="15.53" fill="#26a69a"/>
<rect x="30.16" y="362.52" width="4.00" height="8.47" fill="#206e6b" stroke="#26a69a" stroke-width="0.8"/>
<rect x="38.13" y="357.11" width="0.8" height="7.52" fill="#ef5350"/>
<rect x="36.53" y="362.02" width="4.00" height="0.70" fill="#993c3f" stroke="#ef5350" stroke-width="0.8"/>
<rect x="44.50" y="358.87" width="0.8" height="10.02" fill="#ef5350"/>
<rect x="42.90" y="363.53" width="4.00" height="3.21" fill="#993c3f" stroke="#ef5350" stroke-width="0.8"/>
<rect x="50.86" y="366.38" width="0.8" height="15.78" fill="#ef5350"/>
<rect x="49.26" y="367.53" width="4.00" height="13.48" fill="#993c3f" stroke="#ef5350" stroke-width="0.8"/>
<rect x="57.23" y="375.15" width="0.8" height="8.77" fill="#26a69a"/>
<rect x="55.63" y="377.55" width="4.00" height="4.21" fill="#206e6b" stroke="#26a69a" stroke-width="0.8"/>
<rect x="63.59" y="342.08" width="0.8" height="36.82" fill="#26a69a"/>
<rect x="61.99" y="353.51" width="4.00" height="24.25" fill="#206e6b" stroke="#26a69a" stroke-width="0.8"/>
<rect x="69.95" y="347.60" width="0.8" height="21.29" fill="#ef5350"/>
<rect x="68.36" y="353.51" width="4.00" height="6.21" fill="#993c3f" stroke="#ef5350" stroke-width="0.8"/>
<rect x="76.32" y="340.08" width="0.8" height="33.82" fill="#ef5350"/>
<rect x="74.72" y="360.02" width="4.00" height="11.73" fill="#993c3f" stroke="#ef5350" stroke-width="0.8"/>
<rect x="82.69" y="343.84" width="0.8" height="32.57" fill="#26a69a"/>
<rect x="81.09" y="344.99" width="4.00" height="26.76" fill="#206e6b" stroke="#26a69a" stroke-width="0.8"/>
<rect x="89.05" y="329.56" width="0.8" height="18.54" fill="#26a69a"/>
<rect x="87.45" y="339.23" width="4.00" height="5.96" fill="#206e6b" stroke="#26a69a" stroke-width="0.8"/>
<rect x="95.42" y="333.82" width="0.8" height="7.52" fill="#26a69a"/>
<rect x="93.82" y="335.47" width="4.00" height="4.21" fill="#206e6b" stroke="#26a69a" stroke-width="0.8"/>
<rect x="101.78" y="333.07" width="0.8" height="12.53" fill="#ef5350"/>
<rect x="100.18" y="335.97" width="4.00" height="8.22" fill="#993c3f" stroke="#ef5350" stroke-width="0.8"/>
<rect x="108.15" y="330.56" width="0.8" height="15.78" fill="#26a69a"/>
<rect x="106.55" y="331.71" width="4.00" height="13.48" fill="#206e6b" stroke="#26a69a" stroke-width="0.8"/>
<rect x="114.51" y="329.56" width="0.8" height="10.02" fill="#ef5350"/>
<rect x="112.91" y="331.71" width="4.00" height="0.45" fill="#993c3f" stroke="#ef5350" stroke-width="0.8"/>
<rect x="120.88" y="338.83" width="0.8" height="5.76" fill="#ef5350"/>
<rect x="119.28" y="340.98" width="4.00" height="1.20" fill="#993c3f" stroke="#ef5350" stroke-width="0.8"/>
<rect x="127.24" y="338.83" width="0.8" height="6.26" fill="#26a69a"/>
<rect x="125.64" y="340.48" width="4.00" height="1.71" fill="#206e6b" stroke="#26a69a" stroke-width="0.8"/>
<rect x="133.60" y="339.58" width="0.8" height="7.52" fill="#ef5350"/>
<rect x="132.00" y="340.98" width="4.00" height="4.96" fill="#993c3f" stroke="#ef5350" stroke-width="0.8"/>
<rect x="139.97" y="342.59" width="0.8" height="6.26" fill="#26a69a"/>
<rect x="138.37" y="344.24" width="4.00" height="2.46" fill="#206e6b" stroke="#26a69a" stroke-width="0.8"/>
<rect x="146.33" y="342.08" width="0.8" height="6.01" fill="#ef5350"/>
<rect x="144.73" y="344.24" width="4.00" height="2.46" fill="#993c3f" stroke="#ef5350" stroke-width="0.8"/>
<rect x="152.70" y="342.59" width="0.8" height="6.26" fill="#ef5350"/>
<rect x="151.10" y="345.49" width="4.00" height="0.70" fill="#993c3f" stroke="#ef5350" stroke-width="0.8"/>
<rect x="159.06" y="343.84" width="0.8" height="6.26" fill="#ef5350"/>
<rect x="157.47" y="345.99" width="4.00" height="1.71" fill="#993c3f" stroke="#ef5350" stroke-width="0.8"/>
<rect x="165.43" y="345.09" width="0.8" height="5.01" fill="#ef5350"/>
<rect x="163.83" y="346.99" width="4.00" height="0.70" fill="#993c3f" stroke="#ef5350" stroke-width="0.8"/>
<rect x="171.79" y="340.08" width="0.8" height="10.02" fill="#26a69a"/>
<rect x="170.19" y="344.24" width="4.00" height="3.46" fill="#206e6b" stroke="#26a69a" stroke-width="0.8"/>
<rect x="178.16" y="337.07" width="0.8" height="14.28" fill="#26a69a"/>
<rect x="176.56" y="344.24" width="4.00" height="0.45" fill="#206e6b" stroke="#26a69a" stroke-width="0.8"/>
<rect x="184.53" y="328.06" width="0.8" height="18.29" fill="#26a69a"/>
<rect x="182.93" y="336.72" width="4.00" height="6.72" fill="#206e6b" stroke="#26a69a" stroke-width="0.8"/>
<rect x="190.89" y="327.05" width="0.8" height="19.29" fill="#ef5350"/>
<rect x="189.29" y="336.72" width="4.00" height="6.72" fill="#993c3f" stroke="#ef5350" stroke-width="0.8"/>
<rect x="197.25" y="336.32" width="0.8" height="10.02" fill="#26a69a"/>
<rect x="195.66" y="337.47" width="4.00" height="5.96" fill="#206e6b" stroke="#26a69a" stroke-width="0.8"/>
<rect x="203.62" y="337.07" width="0.8" height="7.52" fill="#ef5350"/>
<rect x="202.02" y="337.98" width="4.00" height="5.46" fill="#993c3f" stroke="#ef5350" stroke-width="0.8"/>
<rect x="209.98" y="337.07" width="0.8" height="10.52" fill="#ef5350"/>
<rect x="208.38" y="342.99" width="4.00" height="2.96" fill="#993c3f" stroke="#ef5350" stroke-width="0.8"/>
<rect x="216.35" y="340.08" width="0.8" height="16.28" fill="#ef5350"/>
<rect x="214.75" y="345.49" width="4.00" height="7.97" fill="#993c3f" stroke="#ef5350" stroke-width="0.8"/>
<rect x="222.72" y="347.60" width="0.8" height="7.52" fill="#26a69a"/>
<rect x="221.12" y="350.00" width="4.00" height="2.71" fill="#206e6b" stroke="#26a69a" stroke-width="0.8"/>
<rect x="229.08" y="348.85" width="0.8" height="9.27" fill="#ef5350"/>
<rect x="227.48" y="350.00" width="4.00" height="4.21" fill="#993c3f" stroke="#ef5350" stroke-width="0.8"/>
<rect x="235.44" y="352.10" width="0.8" height="7.52" fill="#ef5350"/>
<rect x="233.84" y="353.51" width="4.00" height="4.21" fill="#993c3f" stroke="#ef5350" stroke-width="0.8"/>
<rect x="241.81" y="356.36" width="0.8" height="3.76" fill="#ef5350"/>
<rect x="240.21" y="357.51" width="4.00" height="1.71" fill="#993c3f" stroke="#ef5350" stroke-width="0.8"/>
<rect x="248.18" y="355.61" width="0.8" height="4.51" fill="#26a69a"/>
<rect x="246.58" y="357.51" width="4.00" height="1.71" fill="#206e6b" stroke="#26a69a" stroke-width="0.8"/>
<rect x="254.54" y="352.61" width="0.8" height="6.26" fill="#26a69a"/>
<rect x="252.94" y="353.51" width="4.00" height="4.21" fill="#206e6b" stroke="#26a69a" stroke-width="0.8"/>
<rect x="260.90" y="353.80" width="0.8" height="2.51" fill="#ef5350"/>
<rect x="259.30" y="354.70" width="4.00" height="0.70" fill="#993c3f" stroke="#ef5350" stroke-width="0.8"/>
<rect x="267.27" y="354.55" width="0.8" height="5.01" fill="#26a69a"/>
<rect x="265.67" y="355.45" width="4.00" height="0.20" fill="#206e6b" stroke="#26a69a" stroke-width="0.8"/>
<rect x="273.63" y="352.04" width="0.8" height="5.51" fill="#ef5350"/>
<rect x="272.03" y="353.45" width="4.00" height="1.71" fill="#993c3f" stroke="#ef5350" stroke-width="0.8"/>
<rect x="280.00" y="355.05" width="0.8" height="6.26" fill="#ef5350"/>
<rect x="278.40" y="355.95" width="4.00" height="3.21" fill="#993c3f" stroke="#ef5350" stroke-width="0.8"/>
<rect x="286.37" y="357.56" width="0.8" height="8.77" fill="#ef5350"/>
<rect x="284.76" y="358.46" width="4.00" height="6.72" fill="#993c3f" stroke="#ef5350" stroke-width="0.8"/>
<rect x="292.73" y="364.57" width="0.8" height="5.51" fill="#ef5350"/>
<rect x="291.13" y="365.97" width="4.00" height="2.46" fill="#993c3f" stroke="#ef5350" stroke-width="0.8"/>
<rect x="299.09" y="366.32" width="0.8" height="5.76" fill="#ef5350"/>
<rect x="297.49" y="368.48" width="4.00" height="2.46" fill="#993c3f" stroke="#ef5350" stroke-width="0.8"/>
<rect x="305.46" y="370.58" width="0.8" height="7.01" fill="#ef5350"/>
<rect x="303.86" y="371.23" width="4.00" height="0.45" fill="#993c3f" stroke="#ef5350" stroke-width="0.8"/>
<rect x="311.82" y="371.33" width="0.8" height="5.01" fill="#ef5350"/>
<rect x="310.22" y="372.48" width="4.00" height="1.71" fill="#993c3f" stroke="#ef5350" stroke-width="0.8"/>
<rect x="318.19" y="372.59" width="0.8" height="7.01" fill="#ef5350"/>
<rect x="316.59" y="373.49" width="4.00" height="3.71" fill="#993c3f" stroke="#ef5350" stroke-width="0.8"/>
<rect x="324.56" y="369.58" width="0.8" height="8.02" fill="#26a69a"/>
<rect x="322.95" y="373.49" width="4.00" height="3.21" fill="#206e6b" stroke="#26a69a" stroke-width="0.8"/>
<rect x="330.92" y="372.59" width="0.8" height="53.11" fill="#ef5350"/>
<rect x="329.32" y="373.49" width="4.00" height="43.79" fill="#993c3f" stroke="#ef5350" stroke-width="0.8"/>
<rect x="337.29" y="392.12" width="0.8" height="25.55" fill="#26a69a"/>
<rect x="335.69" y="396.78" width="4.00" height="20.49" fill="#206e6b" stroke="#26a69a" stroke-width="0.8"/>
<rect x="343.65" y="386.36" width="0.8" height="10.77" fill="#26a69a"/>
<rect x="342.05" y="391.02" width="4.00" height="4.96" fill="#206e6b" stroke="#26a69a" stroke-width="0.8"/>
<rect x="350.01" y="377.60" width="0.8" height="14.53" fill="#26a69a"/>
<rect x="348.41" y="387.51" width="4.00" height="3.46" fill="#206e6b" stroke="#26a69a" stroke-width="0.8"/>
<rect x="356.38" y="385.11" width="0.8" height="34.57" fill="#ef5350"/>
<rect x="354.78" y="387.51" width="4.00" height="27.76" fill="#993c3f" stroke="#ef5350" stroke-width="0.8"/>
<rect x="362.75" y="408.91" width="0.8" height="21.79" fill="#ef5350"/>
<rect x="361.14" y="415.07" width="4.00" height="14.23" fill="#993c3f" stroke="#ef5350" stroke-width="0.8"/>
<rect x="369.11" y="428.20" width="0.8" height="24.55" fill="#ef5350"/>
<rect x="367.51" y="430.60" width="4.00" height="21.24" fill="#993c3f" stroke="#ef5350" stroke-width="0.8"/>
<rect x="375.48" y="445.54" width="0.8" height="11.27" fill="#ef5350"/>
<rect x="373.88" y="451.45" width="4.00" height="4.21" fill="#993c3f" stroke="#ef5350" stroke-width="0.8"/>
<rect x="381.84" y="453.05" width="0.8" height="23.80" fill="#ef5350"/>
<rect x="380.24" y="455.96" width="4.00" height="15.48" fill="#993c3f" stroke="#ef5350" stroke-width="0.8"/>
<rect x="388.20" y="436.77" width="0.8" height="35.82" fill="#26a69a"/>
<rect x="386.60" y="439.67" width="4.00" height="31.77" fill="#206e6b" stroke="#26a69a" stroke-width="0.8"/>
<rect x="394.57" y="427.70" width="0.8" height="13.78" fill="#26a69a"/>
<rect x="392.97" y="431.10" width="4.00" height="8.22" fill="#206e6b" stroke="#26a69a" stroke-width="0.8"/>
<rect x="400.94" y="417.68" width="0.8" height="18.79" fill="#26a69a"/>
<rect x="399.33" y="420.08" width="4.00" height="10.97" fill="#206e6b" stroke="#26a69a" stroke-width="0.8"/>
<rect x="407.30" y="417.17" width="0.8" height="6.01" fill="#26a69a"/>
<rect x="405.70" y="418.08" width="4.00" height="2.21" fill="#206e6b" stroke="#26a69a" stroke-width="0.8"/>
<rect x="413.67" y="415.67" width="0.8" height="4.51" fill="#26a69a"/>
<rect x="412.06" y="417.57" width="4.00" height="0.20" fill="#206e6b" stroke="#26a69a" stroke-width="0.8"/>
<rect x="420.03" y="411.41" width="0.8" height="7.52" fill="#26a69a"/>
<rect x="418.43" y="413.07" width="4.00" height="4.71" fill="#206e6b" stroke="#26a69a" stroke-width="0.8"/>
<rect x="426.39" y="410.66" width="0.8" height="5.76" fill="#26a69a"/>
<rect x="424.79" y="414.32" width="4.00" height="0.45" fill="#206e6b" stroke="#26a69a" stroke-width="0.8"/>
<rect x="432.76" y="408.16" width="0.8" height="9.52" fill="#ef5350"/>
<rect x="431.16" y="414.32" width="4.00" height="2.46" fill="#993c3f" stroke="#ef5350" stroke-width="0.8"/>
<rect x="439.12" y="413.92" width="0.8" height="4.26" fill="#ef5350"/>
<rect x="437.52" y="416.82" width="4.00" height="0.20" fill="#993c3f" stroke="#ef5350" stroke-width="0.8"/>
<rect x="445.49" y="416.42" width="0.8" height="6.76" fill="#ef5350"/>
<rect x="443.89" y="417.57" width="4.00" height="3.46" fill="#993c3f" stroke="#ef5350" stroke-width="0.8"/>
<rect x="451.86" y="420.18" width="0.8" height="6.26" fill="#ef5350"/>
<rect x="450.25" y="421.08" width="4.00" height="3.71" fill="#993c3f" stroke="#ef5350" stroke-width="0.8"/>
<rect x="458.22" y="422.18" width="0.8" height="4.26" fill="#ef5350"/>
<rect x="456.62" y="424.34" width="4.00" height="0.95" fill="#993c3f" stroke="#ef5350" stroke-width="0.8"/>
<rect x="464.58" y="422.18" width="0.8" height="6.01" fill="#26a69a"/>
<rect x="462.98" y="424.34" width="4.00" height="0.45" fill="#206e6b" stroke="#26a69a" stroke-width="0.8"/>
<rect x="470.95" y="419.68" width="0.8" height="6.76" fill="#26a69a"/>
<rect x="469.35" y="421.08" width="4.00" height="4.21" fill="#206e6b" stroke="#26a69a" stroke-width="0.8"/>
<rect x="477.31" y="414.67" width="0.8" height="8.52" fill="#26a69a"/>
<rect x="475.71" y="415.57" width="4.00" height="5.46" fill="#206e6b" stroke="#26a69a" stroke-width="0.8"/>
<rect x="483.68" y="402.65" width="0.8" height="22.55" fill="#ef5350"/>
<rect x="482.08" y="415.57" width="4.00" height="2.96" fill="#993c3f" stroke="#ef5350" stroke-width="0.8"/>
<rect x="490.05" y="412.67" width="0.8" height="8.02" fill="#26a69a"/>
<rect x="488.44" y="414.32" width="4.00" height="4.21" fill="#206e6b" stroke="#26a69a" stroke-width="0.8"/>
<rect x="496.41" y="403.15" width="0.8" height="12.02" fill="#26a69a"/>
<rect x="494.81" y="406.05" width="4.00" height="7.47" fill="#206e6b" stroke="#26a69a" stroke-width="0.8"/>
<rect x="502.78" y="400.04" width="0.8" height="15.03" fill="#ef5350"/>
<rect x="501.18" y="405.95" width="4.00" height="8.22" fill="#993c3f" stroke="#ef5350" stroke-width="0.8"/>
<rect x="509.14" y="405.05" width="0.8" height="10.02" fill="#26a69a"/>
<rect x="507.54" y="407.45" width="4.00" height="6.72" fill="#206e6b" stroke="#26a69a" stroke-width="0.8"/>
<rect x="515.51" y="402.04" width="0.8" height="7.52" fill="#ef5350"/>
<rect x="513.91" y="405.45" width="4.00" height="0.45" fill="#993c3f" stroke="#ef5350" stroke-width="0.8"/>
<rect x="521.87" y="400.54" width="0.8" height="27.05" fill="#ef5350"/>
<rect x="520.27" y="407.45" width="4.00" height="19.24" fill="#993c3f" stroke="#ef5350" stroke-width="0.8"/>
<rect x="528.24" y="421.33" width="0.8" height="20.79" fill="#ef5350"/>
<rect x="526.63" y="426.74" width="4.00" height="13.48" fill="#993c3f" stroke="#ef5350" stroke-width="0.8"/>
<rect x="534.60" y="426.34" width="0.8" height="15.03" fill="#26a69a"/>
<rect x="533.00" y="432.50" width="4.00" height="7.72" fill="#206e6b" stroke="#26a69a" stroke-width="0.8"/>
<rect x="540.97" y="422.08" width="0.8" height="21.79" fill="#ef5350"/>
<rect x="539.37" y="432.50" width="4.00" height="10.97" fill="#993c3f" stroke="#ef5350" stroke-width="0.8"/>
<rect x="547.33" y="442.63" width="0.8" height="20.04" fill="#ef5350"/>
<rect x="545.73" y="444.28" width="4.00" height="10.47" fill="#993c3f" stroke="#ef5350" stroke-width="0.8"/>
<rect x="553.70" y="451.39" width="0.8" height="17.54" fill="#ef5350"/>
<rect x="552.10" y="454.30" width="4.00" height="7.47" fill="#993c3f" stroke="#ef5350" stroke-width="0.8"/>
<rect x="560.06" y="460.16" width="0.8" height="16.28" fill="#ef5350"/>
<rect x="558.46" y="461.06" width="4.00" height="13.73" fill="#993c3f" stroke="#ef5350" stroke-width="0.8"/>
<rect x="566.43" y="468.93" width="0.8" height="8.77" fill="#ef5350"/>
<rect x="564.83" y="473.59" width="4.00" height="0.70" fill="#993c3f" stroke="#ef5350" stroke-width="0.8"/>
<rect x="572.79" y="472.18" width="0.8" height="9.27" fill="#ef5350"/>
<rect x="571.19" y="473.59" width="4.00" height="6.72" fill="#993c3f" stroke="#ef5350" stroke-width="0.8"/>
<rect x="579.16" y="472.18" width="0.8" height="9.27" fill="#26a69a"/>
<rect x="577.56" y="474.34" width="4.00" height="5.96" fill="#206e6b" stroke="#26a69a" stroke-width="0.8"/>
<rect x="585.52" y="473.19" width="0.8" height="6.51" fill="#ef5350"/>
<rect x="583.92" y="474.34" width="4.00" height="4.21" fill="#993c3f" stroke="#ef5350" stroke-width="0.8"/>
<rect x="591.89" y="476.44" width="0.8" height="8.27" fill="#ef5350"/>
<rect x="590.29" y="478.10" width="4.00" height="5.46" fill="#993c3f" stroke="#ef5350" stroke-width="0.8"/>
<rect x="598.25" y="476.44" width="0.8" height="8.27" fill="#26a69a"/>
<rect x="596.65" y="477.59" width="4.00" height="5.21" fill="#206e6b" stroke="#26a69a" stroke-width="0.8"/>
<rect x="604.62" y="475.69" width="0.8" height="5.01" fill="#ef5350"/>
<rect x="603.01" y="477.59" width="4.00" height="1.71" fill="#993c3f" stroke="#ef5350" stroke-width="0.8"/>
<rect x="610.98" y="476.44" width="0.8" height="7.52" fill="#ef5350"/>
<rect x="609.38" y="479.35" width="4.00" height="2.96" fill="#993c3f" stroke="#ef5350" stroke-width="0.8"/>
<rect x="617.35" y="480.20" width="0.8" height="10.02" fill="#ef5350"/>
<rect x="615.75" y="481.85" width="4.00" height="6.72" fill="#993c3f" stroke="#ef5350" stroke-width="0.8"/>
<rect x="623.71" y="484.71" width="0.8" height="6.76" fill="#26a69a"/>
<rect x="622.11" y="486.11" width="4.00" height="3.71" fill="#206e6b" stroke="#26a69a" stroke-width="0.8"/>
<rect x="630.08" y="472.18" width="0.8" height="14.28" fill="#26a69a"/>
<rect x="628.48" y="474.34" width="4.00" height="10.97" fill="#206e6b" stroke="#26a69a" stroke-width="0.8"/>
<rect x="636.44" y="462.67" width="0.8" height="12.02" fill="#26a69a"/>
<rect x="634.84" y="464.32" width="4.00" height="8.47" fill="#206e6b" stroke="#26a69a" stroke-width="0.8"/>
<rect x="642.81" y="459.66" width="0.8" height="9.27" fill="#ef5350"/>
<rect x="641.21" y="464.32" width="4.00" height="3.46" fill="#993c3f" stroke="#ef5350" stroke-width="0.8"/>
<rect x="649.17" y="458.16" width="0.8" height="17.03" fill="#26a69a"/>
<rect x="647.57" y="463.07" width="4.00" height="4.21" fill="#206e6b" stroke="#26a69a" stroke-width="0.8"/>
<rect x="655.54" y="467.68" width="0.8" height="11.27" fill="#ef5350"/>
<rect x="653.94" y="470.58" width="4.00" height="7.22" fill="#993c3f" stroke="#ef5350" stroke-width="0.8"/>
<rect x="661.90" y="480.20" width="0.8" height="25.10" fill="#ef5350"/>
<rect x="660.30" y="484.40" width="4.00" height="19.90" fill="#993c3f" stroke="#ef5350" stroke-width="0.8"/>
<rect x="668.27" y="497.50" width="0.8" height="11.10" fill="#ef5350"/>
<rect x="666.67" y="499.40" width="4.00" height="7.20" fill="#993c3f" stroke="#ef5350" stroke-width="0.8"/>
<rect x="674.63" y="502.00" width="0.8" height="24.50" fill="#26a69a"/>
<rect x="673.03" y="504.60" width="4.00" height="1.80" fill="#206e6b" stroke="#26a69a" stroke-width="0.8"/>
<rect x="681.00" y="502.70" width="0.8" height="29.80" fill="#ef5350"/>
<rect x="679.40" y="504.60" width="4.00" height="18.50" fill="#993c3f" stroke="#ef5350" stroke-width="0.8"/>
<rect x="687.36" y="497.50" width="0.8" height="29.00" fill="#26a69a"/>
<rect x="685.76" y="516.40" width="4.00" height="6.70" fill="#206e6b" stroke="#26a69a" stroke-width="0.8"/>
<rect x="693.73" y="512.40" width="0.8" height="15.60" fill="#ef5350"/>
<rect x="692.12" y="515.70" width="4.00" height="7.70" fill="#993c3f" stroke="#ef5350" stroke-width="0.8"/>
<rect x="700.09" y="514.00" width="0.8" height="14.70" fill="#26a69a"/>
<rect x="698.49" y="517.70" width="4.00" height="5.70" fill="#206e6b" stroke="#26a69a" stroke-width="0.8"/>
<rect x="706.46" y="505.00" width="0.8" height="12.00" fill="#26a69a"/>
<rect x="704.86" y="510.80" width="4.00" height="2.60" fill="#206e6b" stroke="#26a69a" stroke-width="0.8"/>
<rect x="712.82" y="505.00" width="0.8" height="14.00" fill="#ef5350"/>
<rect x="711.22" y="510.80" width="4.00" height="5.40" fill="#993c3f" stroke="#ef5350" stroke-width="0.8"/>
<rect x="719.19" y="509.00" width="0.8" height="9.00" fill="#26a69a"/>
<rect x="717.59" y="511.40" width="4.00" height="4.80" fill="#206e6b" stroke="#26a69a" stroke-width="0.8"/>
<rect x="725.55" y="498.20" width="0.8" height="12.20" fill="#26a69a"/>
<rect x="723.95" y="507.20" width="4.00" height="2.80" fill="#206e6b" stroke="#26a69a" stroke-width="0.8"/>
<rect x="731.92" y="500.60" width="0.8" height="6.20" fill="#26a69a"/>
<rect x="730.32" y="502.30" width="4.00" height="2.80" fill="#206e6b" stroke="#26a69a" stroke-width="0.8"/>
<rect x="738.28" y="500.00" width="0.8" height="11.00" fill="#ef5350"/>
<rect x="736.68" y="501.60" width="4.00" height="8.40" fill="#993c3f" stroke="#ef5350" stroke-width="0.8"/>
<rect x="744.65" y="505.50" width="0.8" height="7.40" fill="#26a69a"/>
<rect x="743.05" y="507.20" width="4.00" height="4.10" fill="#206e6b" stroke="#26a69a" stroke-width="0.8"/>
<rect x="751.01" y="506.80" width="0.8" height="19.60" fill="#ef5350"/>
<rect x="749.41" y="508.40" width="4.00" height="12.70" fill="#993c3f" stroke="#ef5350" stroke-width="0.8"/>
<rect x="757.38" y="520.20" width="0.8" height="11.10" fill="#ef5350"/>
<rect x="755.78" y="521.90" width="4.00" height="5.30" fill="#993c3f" stroke="#ef5350" stroke-width="0.8"/>
<rect x="763.74" y="522.00" width="0.8" height="6.80" fill="#26a69a"/>
<rect x="762.14" y="526.20" width="4.00" height="1.00" fill="#206e6b" stroke="#26a69a" stroke-width="0.8"/>
<rect x="770.11" y="521.50" width="0.8" height="8.50" fill="#ef5350"/>
<rect x="768.50" y="524.40" width="4.00" height="2.80" fill="#993c3f" stroke="#ef5350" stroke-width="0.8"/>
<rect x="776.47" y="522.70" width="0.8" height="6.70" fill="#26a69a"/>
<rect x="774.87" y="524.40" width="4.00" height="2.80" fill="#206e6b" stroke="#26a69a" stroke-width="0.8"/>
<rect x="782.84" y="520.20" width="0.8" height="4.30" fill="#26a69a"/>
<rect x="781.24" y="521.90" width="4.00" height="0.20" fill="#206e6b" stroke="#26a69a" stroke-width="0.8"/>
<rect x="789.20" y="514.00" width="0.8" height="10.00" fill="#ef5350"/>
<rect x="787.60" y="521.90" width="4.00" height="0.20" fill="#993c3f" stroke="#ef5350" stroke-width="0.8"/>
<rect x="795.57" y="520.90" width="0.8" height="5.50" fill="#ef5350"/>
<rect x="793.97" y="523.10" width="4.00" height="0.20" fill="#993c3f" stroke="#ef5350" stroke-width="0.8"/>
<polyline points="619.0,494.0 646.7,463.9 654.9,479.6 661.6,490.0 668.3,507.1 679.5,528.7 686.2,517.6 695.1,501.9 704.1,510.9 713.0,520.6 717.4,516.6 732.0,501.9 736.3,501.2 741.9,509.2 750.4,519.0 762.7,533.7 771.3,525.8 786.0,504.3 788.4,505.5 794.6,517.8 800.7,525.1" fill="none" stroke="#d8b42a" stroke-width="2.6" stroke-linejoin="round" stroke-linecap="round" opacity="0.85"/>
<polyline points="619.7,494.0 647.4,463.9 655.6,479.6 662.3,490.0 669.0,507.1 680.2,528.7 686.9,517.6 695.8,501.9 704.8,510.9 713.7,520.6 718.1,516.6 732.7,501.9 737.0,501.2 742.6,509.2 751.1,519.0 763.4,533.7 772.0,525.8 786.7,504.3 789.1,505.5 795.3,517.8 801.4,525.1" fill="none" stroke="#e0862a" stroke-width="1.0" stroke-linejoin="round" stroke-linecap="round" opacity="0.8"/>
<text x="856" y="498.4" font-size="11.2" fill="#2aa5c2" font-family='"Liberation Sans", "Noto Sans CJK JP", sans-serif' text-anchor="middle" stroke="#2aa5c2" stroke-width="0.3" textLength="75.6" lengthAdjust="spacingAndGlyphs">1時間売り抑え</text>
<text x="961" y="478.9" font-size="11.2" fill="#2aa5c2" font-family='"Liberation Sans", "Noto Sans CJK JP", sans-serif' stroke="#2aa5c2" stroke-width="0.3">4時間</text>
<circle cx="801.4" cy="545.2" r="7.2" fill="#2a1a26" stroke="#6e2c44" stroke-width="1.3"/>
<circle cx="801.4" cy="545.2" r="5.0" fill="#ecd2de"/>
<path d="M796.6 545.2 h9.6 M801.4 540.4 v9.6" stroke="#d8708c" stroke-width="1"/>
<path d="M798 541.8 l6.8 6.8 M804.8 541.8 l-6.8 6.8" stroke="#e0a0b8" stroke-width="0.8"/>
<circle cx="826.7" cy="545" r="7.2" fill="#2a1a26" stroke="#7a3040" stroke-width="1.3"/>
<circle cx="826.7" cy="545" r="5.0" fill="#f0eef2"/>
<path d="M822 546.6 h9.4 M822.6 549 h8.2" stroke="#e07080" stroke-width="1"/>
<path d="M821.8 544.2 A5 5 0 0 1 826.7 540 V544.2 Z" fill="#5a94d4"/>
<path d="M826.7 542.2 h4.6 M826.7 544.3 h4.9" stroke="#e89aa6" stroke-width="0.8"/>
</g>
<rect x="952.8" y="522.5" width="25.8" height="25.3" fill="#ffffff"/>
<text x="965.7" y="540.2" font-size="12.5" fill="#2a2e39" font-family='"Liberation Sans", "Noto Sans CJK JP", sans-serif' text-anchor="middle" stroke="#2a2e39" stroke-width="0.4">77</text>
<line x1="985.5" y1="302" x2="985.5" y2="571" stroke="#2a2e39" stroke-width="1"/>
<line x1="0" y1="554.5" x2="1024" y2="554.5" stroke="#2a2e39" stroke-width="1"/>
<text x="991.4" y="341.2" font-size="8.4" fill="#b2b5be" font-family='"Liberation Sans", "Noto Sans CJK JP", sans-serif' stroke="#b2b5be" stroke-width="0.2" textLength="28.1" lengthAdjust="spacingAndGlyphs">1.36500</text>
<text x="991.4" y="386.4" font-size="8.4" fill="#b2b5be" font-family='"Liberation Sans", "Noto Sans CJK JP", sans-serif' stroke="#b2b5be" stroke-width="0.2" textLength="28.1" lengthAdjust="spacingAndGlyphs">1.36000</text>
<text x="991.4" y="520.5" font-size="8.4" fill="#b2b5be" font-family='"Liberation Sans", "Noto Sans CJK JP", sans-serif' stroke="#b2b5be" stroke-width="0.2" textLength="28.1" lengthAdjust="spacingAndGlyphs">1.34500</text>
<rect x="986.1" y="419.4" width="38" height="11.2" fill="#ffffff"/><text x="991.8000000000001" y="428.29999999999995" font-size="8.7" fill="#2a2e39" font-family='"Liberation Sans", "Noto Sans CJK JP", sans-serif' stroke="#2a2e39" stroke-width="0.25" textLength="26.9" lengthAdjust="spacingAndGlyphs">1.35312</text>
<rect x="986.1" y="430.7" width="38" height="11.2" fill="#1eaac8"/><text x="991.8000000000001" y="439.59999999999997" font-size="8.7" fill="#0d3a48" font-family='"Liberation Sans", "Noto Sans CJK JP", sans-serif' stroke="#0d3a48" stroke-width="0.25" textLength="26.9" lengthAdjust="spacingAndGlyphs">1.35276</text>
<rect x="986.1" y="442.0" width="38" height="11.2" fill="#ffffff"/><text x="991.8000000000001" y="450.9" font-size="8.7" fill="#2a2e39" font-family='"Liberation Sans", "Noto Sans CJK JP", sans-serif' stroke="#2a2e39" stroke-width="0.25" textLength="26.9" lengthAdjust="spacingAndGlyphs">1.35178</text>
<rect x="986.1" y="453.3" width="38" height="11.2" fill="#1eaac8"/><text x="991.8000000000001" y="462.2" font-size="8.7" fill="#0d3a48" font-family='"Liberation Sans", "Noto Sans CJK JP", sans-serif' stroke="#0d3a48" stroke-width="0.25" textLength="26.9" lengthAdjust="spacingAndGlyphs">1.34990</text>
<rect x="986.1" y="464.6" width="38" height="11.2" fill="#ffa214"/><text x="991.8000000000001" y="473.5" font-size="8.7" fill="#3a2a10" font-family='"Liberation Sans", "Noto Sans CJK JP", sans-serif' stroke="#3a2a10" stroke-width="0.25" textLength="26.9" lengthAdjust="spacingAndGlyphs">1.34920</text>
<rect x="986.1" y="475.9" width="38" height="11.2" fill="#ffa214"/><text x="991.8000000000001" y="484.79999999999995" font-size="8.7" fill="#3a2a10" font-family='"Liberation Sans", "Noto Sans CJK JP", sans-serif' stroke="#3a2a10" stroke-width="0.25" textLength="26.9" lengthAdjust="spacingAndGlyphs">1.34806</text>
<rect x="986.1" y="487.2" width="38" height="11.2" fill="#4caf50"/><text x="991.8000000000001" y="496.09999999999997" font-size="8.7" fill="#ffffff" font-family='"Liberation Sans", "Noto Sans CJK JP", sans-serif' stroke="#ffffff" stroke-width="0.25" textLength="26.9" lengthAdjust="spacingAndGlyphs">1.34694</text>
<rect x="986.1" y="498.5" width="38" height="11.2" fill="#4caf50"/><text x="991.8000000000001" y="507.4" font-size="8.7" fill="#ffffff" font-family='"Liberation Sans", "Noto Sans CJK JP", sans-serif' stroke="#ffffff" stroke-width="0.25" textLength="26.9" lengthAdjust="spacingAndGlyphs">1.34670</text>
<rect x="985.7" y="519.4" width="37.2" height="20.1" fill="#e5535a"/>
<text x="992.1" y="527.6" font-size="8.2" fill="#ffffff" font-family='"Liberation Sans", "Noto Sans CJK JP", sans-serif' stroke="#ffffff" stroke-width="0.25" textLength="26.6" lengthAdjust="spacingAndGlyphs">1.34440</text>
<text x="992.1" y="537.2" font-size="8.2" fill="#ffffff" font-family='"Liberation Sans", "Noto Sans CJK JP", sans-serif' stroke="#ffffff" stroke-width="0.15" textLength="18.5" lengthAdjust="spacingAndGlyphs">53:07</text>
<rect x="988.6" y="304.6" width="34.5" height="16.4" rx="1.8" fill="#0c0d10" stroke="#30343e" stroke-width="1"/>
<text x="990.8" y="316" font-size="8.8" fill="#d1d4dc" font-family='"Liberation Sans", "Noto Sans CJK JP", sans-serif' stroke="#d1d4dc" stroke-width="0.2" textLength="13.8" lengthAdjust="spacingAndGlyphs">USD</text>
<path d="M1017 312.3 l2.2 1.8 l2.2 -1.8" fill="none" stroke="#c9ccd3" stroke-width="1.1"/>
<text x="76.75" y="566.4" font-size="8.4" fill="#b2b5be" font-family='"Liberation Sans", "Noto Sans CJK JP", sans-serif' text-anchor="middle" stroke="#b2b5be" stroke-width="0.25">14</text>
<text x="121.25" y="566.4" font-size="8.4" fill="#b2b5be" font-family='"Liberation Sans", "Noto Sans CJK JP", sans-serif' text-anchor="middle" stroke="#b2b5be" stroke-width="0.25">16</text>
<text x="228.75" y="566.4" font-size="8.4" fill="#b2b5be" font-family='"Liberation Sans", "Noto Sans CJK JP", sans-serif' text-anchor="middle" stroke="#b2b5be" stroke-width="0.25">17</text>
<text x="381.75" y="566.4" font-size="8.4" fill="#b2b5be" font-family='"Liberation Sans", "Noto Sans CJK JP", sans-serif' text-anchor="middle" stroke="#b2b5be" stroke-width="0.25">18</text>
<text x="534.5" y="566.4" font-size="8.4" fill="#b2b5be" font-family='"Liberation Sans", "Noto Sans CJK JP", sans-serif' text-anchor="middle" stroke="#b2b5be" stroke-width="0.25">19</text>
<text x="687" y="566.4" font-size="8.4" fill="#b2b5be" font-family='"Liberation Sans", "Noto Sans CJK JP", sans-serif' text-anchor="middle" stroke="#b2b5be" stroke-width="0.25">20</text>
<text x="839.4" y="566.4" font-size="8.4" fill="#b2b5be" font-family='"Liberation Sans", "Noto Sans CJK JP", sans-serif' text-anchor="middle" stroke="#b2b5be" stroke-width="0.25">21</text>
<text x="883.7" y="566.4" font-size="8.4" fill="#b2b5be" font-family='"Liberation Sans", "Noto Sans CJK JP", sans-serif' text-anchor="middle" stroke="#b2b5be" stroke-width="0.25">23</text>
<polygon points="1011.00,564.00 1008.70,567.98 1004.10,567.98 1001.80,564.00 1004.10,560.02 1008.70,560.02" fill="none" stroke="#b2b5be" stroke-width="1.1" stroke-linejoin="round"/><circle cx="1006.4" cy="564" r="1.5" fill="none" stroke="#b2b5be" stroke-width="1"/>
<circle cx="12.8" cy="310.3" r="4.1" fill="#eef0f4"/>
<path d="M8.7 310.3 A4.1 4.1 0 0 1 12.8 306.2 V310.3 Z" fill="#6a9ad0"/>
<path d="M12.8 307.90000000000003 h3.6 M12.8 310.2 h4.1 M9.2 312.5 h7.3" stroke="#e07888" stroke-width="0.9"/>
<circle cx="8.65" cy="314.90000000000003" r="4.7" fill="#171a25"/>
<circle cx="8.65" cy="314.90000000000003" r="4.2" fill="#e8cad8"/>
<path d="M6.2 314.90000000000003 h4.9 M8.65 312.5 v4.8" stroke="#d8708c" stroke-width="1.1"/>
<circle cx="8.65" cy="314.90000000000003" r="4.2" fill="none" stroke="#c8b0d8" stroke-width="0.5"/>
<text x="20" y="316.90000000000003" font-size="10.4" fill="#c3c6ce" font-family='"Liberation Sans", "Noto Sans CJK JP", sans-serif' stroke="#c3c6ce" stroke-width="0.3" textLength="71.2" lengthAdjust="spacingAndGlyphs">ポンド／米ドル</text>
<circle cx="97.5" cy="313.2" r="0.9" fill="#c3c6ce"/>
<text x="101.3" y="316.90000000000003" font-size="10.4" fill="#c3c6ce" font-family='"Liberation Sans", "Noto Sans CJK JP", sans-serif' stroke="#c3c6ce" stroke-width="0.3" textLength="26.7" lengthAdjust="spacingAndGlyphs">1時間</text>
<circle cx="132.5" cy="313.2" r="0.9" fill="#c3c6ce"/>
<text x="137" y="316.70000000000005" font-size="10.4" fill="#c3c6ce" font-family='"Liberation Sans", "Noto Sans CJK JP", sans-serif' stroke="#c3c6ce" stroke-width="0.3" textLength="32.4" lengthAdjust="spacingAndGlyphs">OANDA</text>
<path d="M177 309.3 h8.6 l-2.9 4 l2.9 4 h-8.6 z" fill="#22dcf0"/>
<circle cx="199.5" cy="313.40000000000003" r="4.7" fill="#10352f"/>
<circle cx="199.5" cy="313.40000000000003" r="2.3" fill="#22a88f"/>
<text x="211" y="316.90000000000003" font-size="8.7" fill="#c3c6ce" font-family='"Liberation Sans", "Noto Sans CJK JP", sans-serif' stroke="#c3c6ce" stroke-width="0.25" textLength="17.2" lengthAdjust="spacingAndGlyphs">始値</text>
<text x="229.4" y="316.90000000000003" font-size="8.3" fill="#cf4d55" font-family='"Liberation Sans", "Noto Sans CJK JP", sans-serif' textLength="29.6" lengthAdjust="spacingAndGlyphs">1.34460</text>
<text x="263.6" y="316.90000000000003" font-size="8.7" fill="#c3c6ce" font-family='"Liberation Sans", "Noto Sans CJK JP", sans-serif' stroke="#c3c6ce" stroke-width="0.25" textLength="17.2" lengthAdjust="spacingAndGlyphs">高値</text>
<text x="281.7" y="316.90000000000003" font-size="8.3" fill="#cf4d55" font-family='"Liberation Sans", "Noto Sans CJK JP", sans-serif' textLength="29.6" lengthAdjust="spacingAndGlyphs">1.34488</text>
<text x="315.8" y="316.90000000000003" font-size="8.7" fill="#c3c6ce" font-family='"Liberation Sans", "Noto Sans CJK JP", sans-serif' stroke="#c3c6ce" stroke-width="0.25" textLength="17.2" lengthAdjust="spacingAndGlyphs">安値</text>
<text x="334" y="316.90000000000003" font-size="8.3" fill="#cf4d55" font-family='"Liberation Sans", "Noto Sans CJK JP", sans-serif' textLength="29.6" lengthAdjust="spacingAndGlyphs">1.34408</text>
<text x="367.7" y="316.90000000000003" font-size="8.7" fill="#c3c6ce" font-family='"Liberation Sans", "Noto Sans CJK JP", sans-serif' stroke="#c3c6ce" stroke-width="0.25" textLength="17.2" lengthAdjust="spacingAndGlyphs">終値</text>
<text x="386" y="316.90000000000003" font-size="8.3" fill="#cf4d55" font-family='"Liberation Sans", "Noto Sans CJK JP", sans-serif' textLength="29.6" lengthAdjust="spacingAndGlyphs">1.34440</text>
<text x="419.5" y="316.90000000000003" font-size="8.3" fill="#cf4d55" font-family='"Liberation Sans", "Noto Sans CJK JP", sans-serif' textLength="70.1" lengthAdjust="spacingAndGlyphs">−0.00020 (−0.01%)</text>
<rect x="4.6" y="324.1" width="19.5" height="12.2" rx="2" fill="#151922" stroke="#2e323c" stroke-width="1"/>
<path d="M8.5 328.7 l2.1 2.1 l2.1 -2.1" fill="none" stroke="#c3c6ce" stroke-width="1.2"/>
<text x="17" y="333.4" font-size="9" fill="#c3c6ce" font-family='"Liberation Sans", "Noto Sans CJK JP", sans-serif' stroke="#c3c6ce" stroke-width="0.5">2</text>
<path d="M6.4 535 h8.6 v10 h-4.8 v-6.1 h-3.8 z" fill="#e8e8ea"/><circle cx="18.2" cy="537.3" r="1.9" fill="#e8e8ea"/><path d="M22 535 h4.5 l-3.7 10 h-4.6 z" fill="#e8e8ea"/>
</svg>
</body></html>
